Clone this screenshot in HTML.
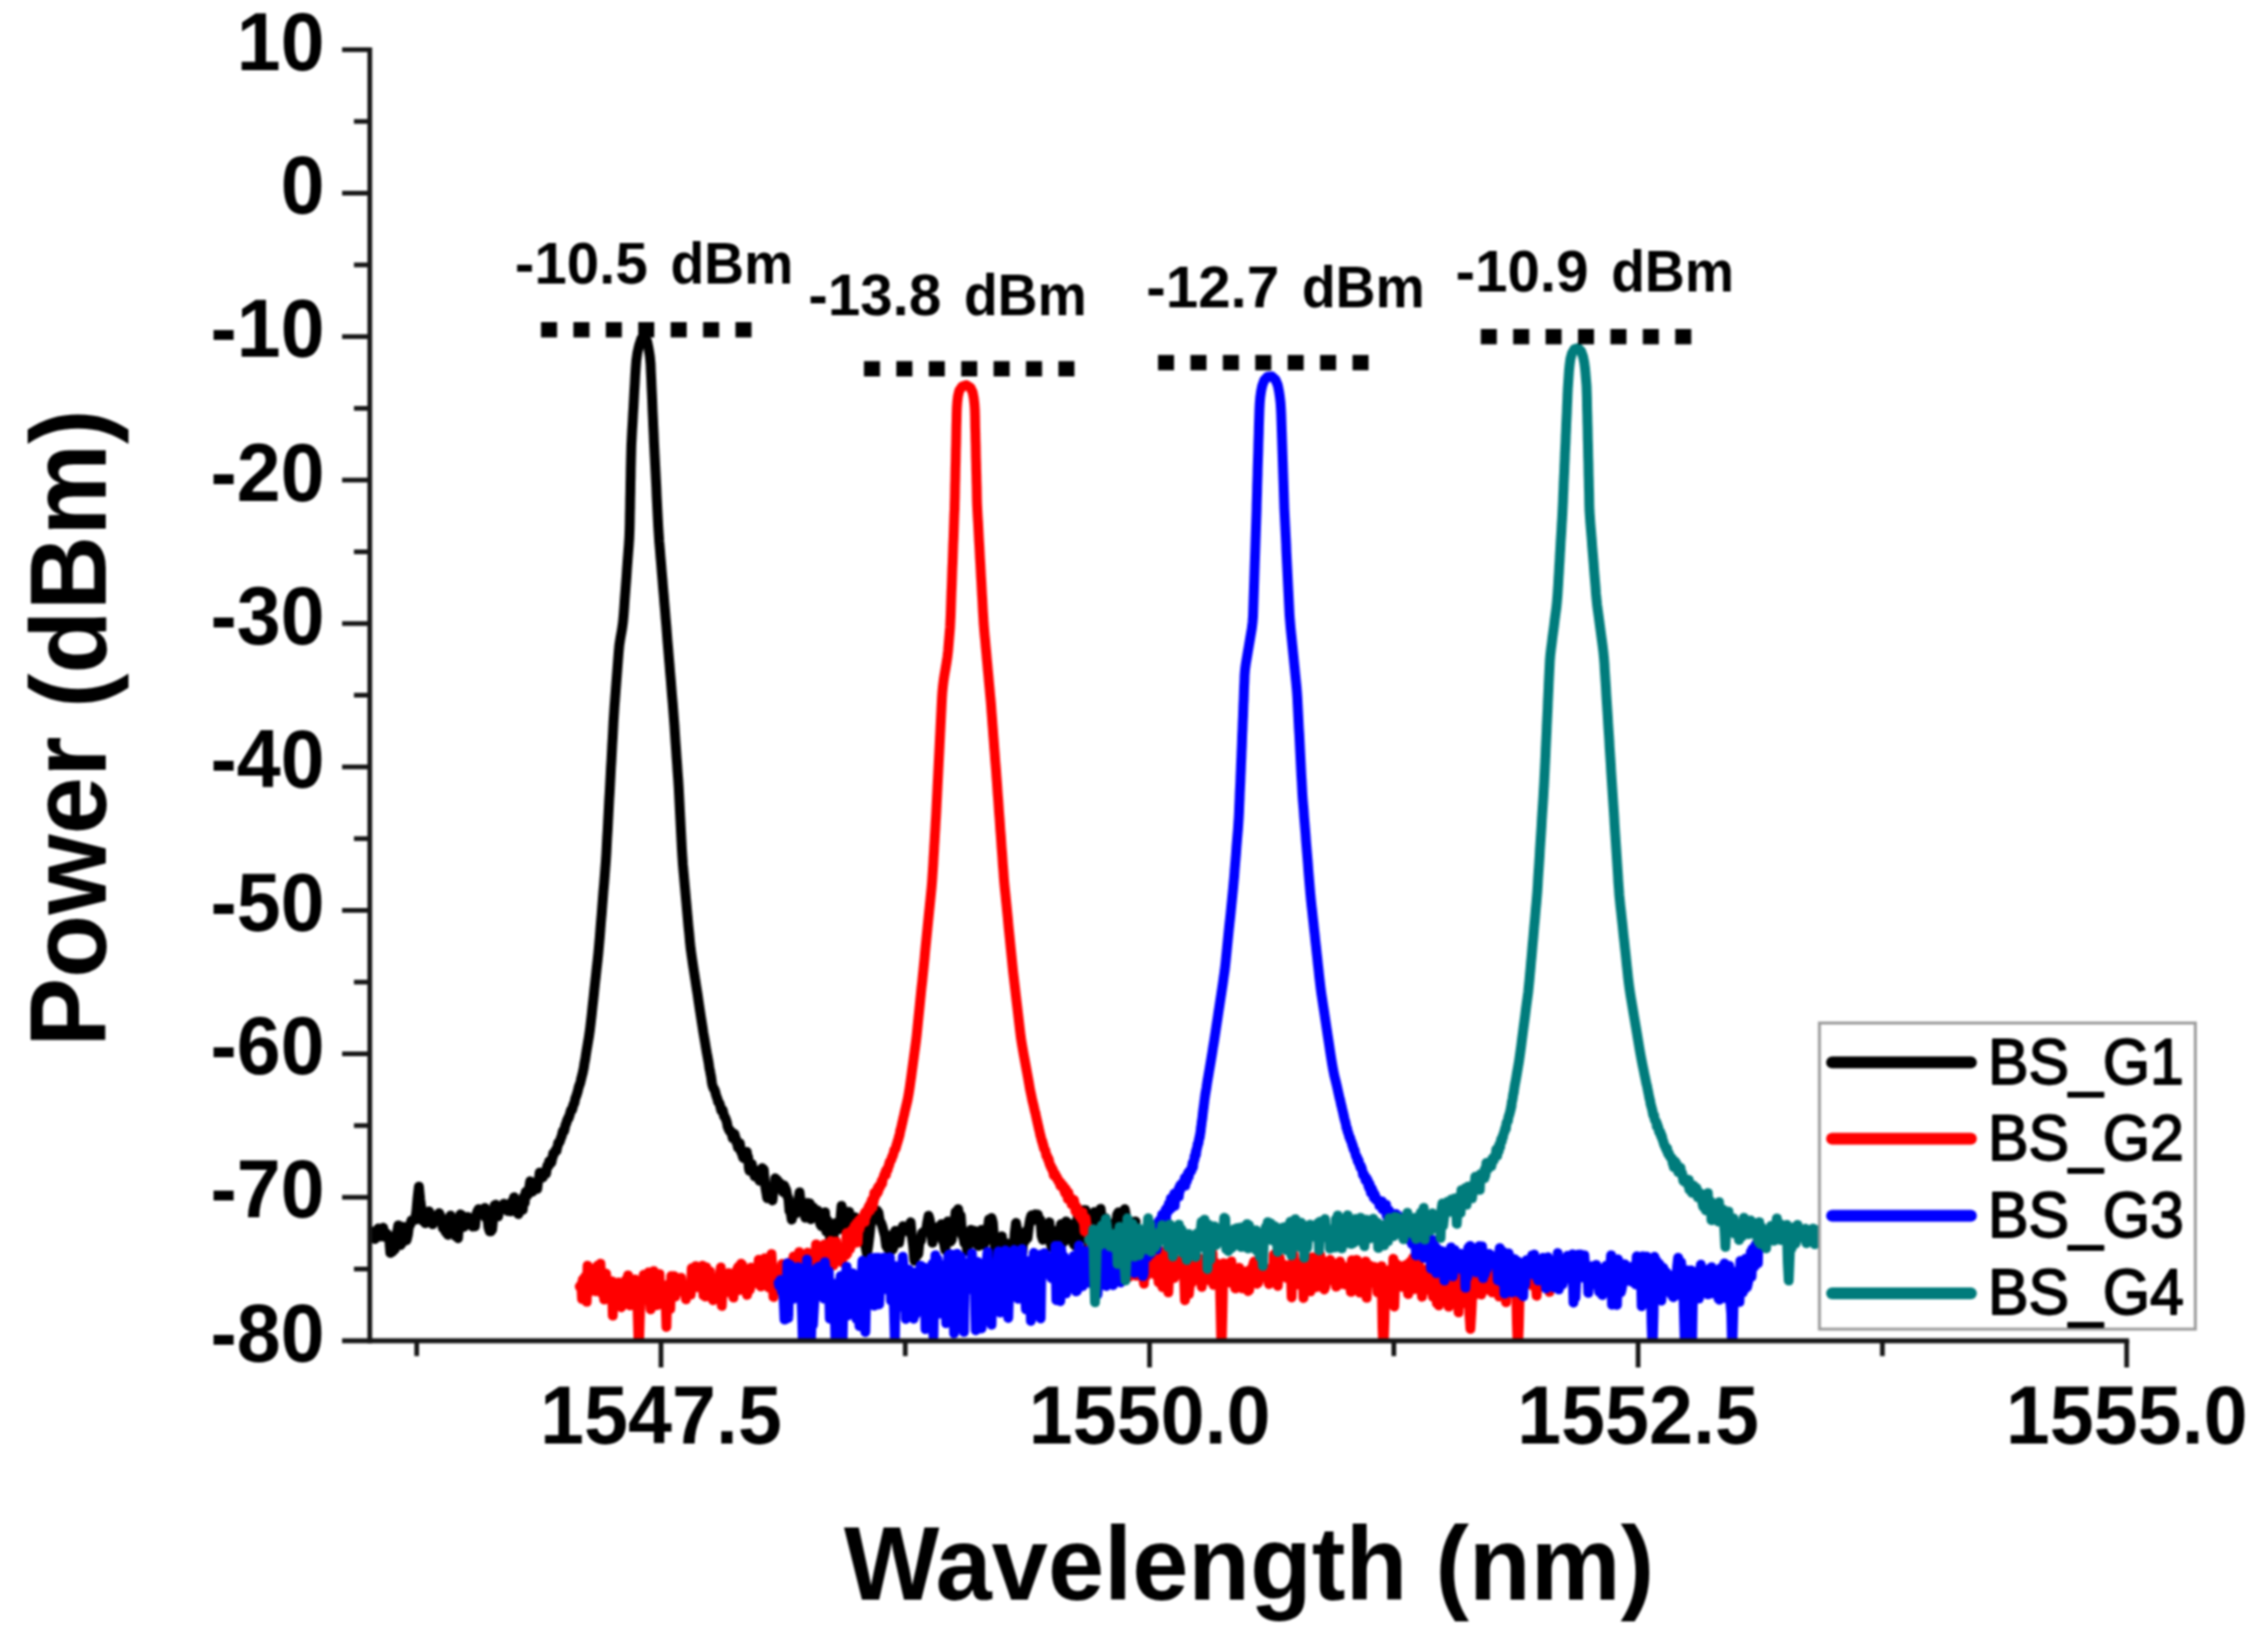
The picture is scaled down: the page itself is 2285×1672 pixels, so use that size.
<!DOCTYPE html>
<html lang="en">
<head>
<meta charset="utf-8">
<title>Backscattered spectra BS_G1 to BS_G4</title>
<style>
html,body{margin:0;padding:0;background:#fff;}
body{width:2285px;height:1672px;overflow:hidden;}
svg{display:block;filter:blur(1.1px);}
</style>
</head>
<body>
<svg width="2285" height="1672" viewBox="0 0 2285 1672" role="img" aria-label="Backscattered power spectra of gratings BS_G1 to BS_G4">
<rect width="2285" height="1672" fill="#fff"/>
<defs><clipPath id="pc"><rect x="374.2" y="0" width="1910.8" height="1359.0"/></clipPath></defs>
<g clip-path="url(#pc)" fill="none" stroke-width="10" stroke-linejoin="round" stroke-linecap="round">
<path stroke="#000000" d="M375.9 1246.4L376.6 1246.5L377.5 1247.7L378.4 1250.2L379.4 1254.0L380.6 1252.6L381.7 1245.7L382.9 1243.3L384.1 1246.5L385.4 1251.4L386.6 1246.6L387.8 1242.6L389.0 1250.2L390.2 1252.2L391.4 1248.4L392.6 1250.3L393.8 1252.4L395.0 1268.0L396.1 1267.4L397.3 1266.7L398.5 1265.2L399.6 1264.3L400.8 1249.6L402.0 1246.7L403.1 1240.2L404.3 1255.9L405.5 1260.1L406.6 1258.4L407.8 1241.8L409.0 1246.8L410.2 1248.8L411.4 1255.3L412.7 1250.1L413.9 1240.8L415.1 1239.5L416.4 1235.2L417.6 1235.7L418.9 1234.3L420.1 1234.4L421.4 1225.8L422.6 1212.2L423.9 1201.0L425.2 1214.1L426.4 1222.9L427.7 1235.5L429.0 1231.8L430.3 1238.0L431.5 1233.7L432.8 1228.5L434.1 1225.9L435.4 1228.5L436.7 1238.0L438.0 1239.1L439.2 1234.3L440.5 1231.6L441.8 1234.8L443.1 1231.0L444.4 1227.8L445.7 1230.7L446.9 1233.1L448.2 1243.0L449.5 1238.9L450.8 1246.8L452.1 1247.7L453.3 1249.8L454.6 1238.3L455.9 1230.2L457.2 1235.5L458.4 1244.4L459.7 1247.2L461.0 1251.1L462.2 1248.8L463.5 1253.2L464.7 1234.8L465.9 1229.1L467.2 1229.8L468.4 1237.2L469.6 1241.7L470.9 1232.0L472.1 1231.9L473.3 1231.7L474.6 1237.1L475.8 1235.1L477.0 1234.1L478.3 1241.4L479.5 1240.3L480.7 1241.2L482.0 1229.3L483.2 1225.9L484.4 1223.8L485.7 1225.5L486.9 1229.6L488.1 1224.4L489.4 1226.9L490.6 1222.5L491.9 1232.8L493.1 1230.7L494.3 1242.2L495.6 1246.2L496.8 1246.2L498.0 1244.4L499.2 1231.9L500.5 1219.9L501.7 1219.3L502.9 1222.1L504.1 1231.1L505.3 1224.3L506.5 1221.9L507.7 1223.2L508.9 1221.7L510.0 1218.2L511.2 1221.1L512.3 1223.9L513.5 1225.5L514.6 1224.9L515.7 1222.7L516.8 1226.1L517.9 1216.5L519.1 1216.1L520.2 1211.7L521.3 1217.3L522.4 1218.0L523.5 1226.8L524.6 1228.8L525.7 1225.6L526.8 1225.5L527.9 1215.7L529.0 1224.5L530.0 1211.0L531.0 1217.3L532.0 1206.3L533.0 1207.8L533.9 1209.6L534.8 1206.8L535.7 1201.2L536.5 1195.6L537.3 1199.6L538.2 1204.0L539.0 1206.1L539.8 1200.4L540.6 1200.6L541.4 1196.7L542.2 1201.5L543.0 1200.6L543.7 1203.3L544.5 1195.9L545.3 1193.5L546.1 1186.8L546.9 1188.9L547.7 1189.3L548.5 1191.4L549.2 1191.8L550.0 1188.9L550.7 1187.9L551.4 1186.1L552.0 1188.1L552.7 1187.8L553.3 1182.4L553.9 1179.8L554.5 1179.1L555.1 1180.5L555.7 1175.4L556.3 1175.0L556.9 1174.8L557.5 1177.1L558.0 1176.4L558.6 1173.5L559.2 1171.3L559.8 1167.4L560.4 1168.4L560.9 1166.5L561.5 1166.2L562.1 1164.2L562.7 1165.1L563.2 1164.7L563.8 1161.6L564.4 1159.6L564.9 1156.7L565.4 1157.1L566.0 1155.8L566.5 1155.5L567.0 1153.6L567.5 1152.2L568.0 1150.7L568.5 1150.0L568.9 1147.5L569.4 1145.6L569.9 1144.1L570.3 1144.4L570.8 1144.9L571.3 1143.2L571.8 1140.7L572.2 1138.6L572.7 1137.7L573.2 1136.7L573.6 1134.8L574.1 1133.4L574.6 1133.0L575.0 1131.4L575.5 1131.6L576.0 1129.6L576.4 1129.0L576.9 1126.6L577.4 1124.9L577.8 1123.6L578.2 1123.0L578.7 1123.6L579.1 1122.7L579.5 1121.3L579.9 1119.3L580.3 1118.1L580.7 1117.1L581.1 1116.7L581.4 1115.7L581.8 1113.7L582.2 1111.7L582.6 1110.6L583.0 1109.7L583.3 1108.8L583.7 1107.6L584.1 1106.4L584.5 1105.2L584.8 1103.7L585.2 1102.2L585.6 1100.3L586.0 1099.5L586.3 1098.4L586.7 1097.5L587.1 1096.2L587.5 1094.8L587.8 1093.4L588.2 1091.9L588.5 1090.6L588.9 1088.7L589.2 1087.9L589.5 1086.5L589.8 1085.7L590.0 1084.1L590.3 1083.3L590.5 1082.1L590.8 1080.6L591.0 1079.1L591.2 1077.8L591.4 1076.6L591.6 1075.2L591.9 1073.9L592.1 1072.9L593.3 1065.0L594.6 1057.3L595.9 1049.7L597.0 1042.0L597.9 1034.3L598.8 1026.5L599.6 1018.7L600.5 1010.9L601.3 1003.1L602.1 995.4L603.0 987.6L603.8 979.9L604.7 972.1L605.5 964.4L606.2 956.6L606.9 948.8L607.5 941.0L608.1 933.3L608.8 925.5L609.4 917.7L610.0 910.0L610.6 902.2L611.3 894.4L611.9 886.6L612.5 878.8L613.1 871.1L613.6 863.3L614.0 855.5L614.4 847.7L614.9 839.9L615.3 832.1L615.7 824.3L616.1 816.5L616.5 808.7L617.0 800.9L617.4 793.1L617.8 785.4L618.2 777.6L618.7 769.8L619.1 762.0L619.5 754.2L620.0 746.4L620.4 738.6L620.8 730.8L621.3 723.0L621.8 715.2L622.4 707.5L623.0 699.7L623.6 691.9L624.2 684.1L624.8 676.3L625.4 668.6L626.0 660.8L626.7 653.0L627.9 645.3L629.3 637.7L630.4 629.9L631.1 622.2L631.7 614.4L632.2 606.6L632.8 598.8L633.4 591.1L634.0 583.3L634.5 575.5L635.1 567.7L635.7 559.9L636.3 552.1L636.8 544.4L637.1 536.6L637.3 528.8L637.4 521.0L637.6 513.2L637.7 505.4L637.9 497.6L638.0 489.8L638.2 482.0L638.3 474.2L638.5 466.4L638.7 458.6L638.9 450.8L639.3 443.0L639.7 435.2L640.2 427.4L640.6 419.6L641.1 411.8L641.5 404.0L641.9 396.2L642.4 388.4L642.8 380.6L643.3 372.9L643.9 365.1L645.0 357.4L646.7 349.8L649.0 342.9L652.3 340.7L655.0 345.9L656.5 353.4L657.7 361.1L658.4 368.8L658.7 376.6L659.1 384.4L659.4 392.2L659.8 400.0L660.1 407.8L660.4 415.6L660.8 423.4L661.1 431.2L661.5 439.0L661.8 446.8L662.2 454.6L662.6 462.4L663.0 470.2L663.4 478.0L663.8 485.8L664.2 493.6L664.5 501.4L664.9 509.1L665.3 516.9L665.7 524.7L666.1 532.5L666.6 540.3L667.1 548.1L667.8 555.9L668.4 563.6L669.1 571.4L669.7 579.2L670.4 587.0L671.0 594.8L671.7 602.5L672.3 610.3L673.0 618.1L673.6 625.9L674.3 633.6L674.9 641.4L675.5 649.2L676.2 657.0L676.8 664.7L677.5 672.5L678.1 680.3L678.8 688.1L679.4 695.8L680.0 703.6L680.7 711.4L681.3 719.2L681.9 726.9L682.5 734.7L683.0 742.5L683.5 750.3L684.1 758.1L684.6 765.9L685.2 773.7L685.7 781.4L686.3 789.2L686.8 797.0L687.2 804.8L687.6 812.6L688.0 820.4L688.4 828.2L688.8 836.0L689.2 843.8L689.6 851.6L690.0 859.3L690.5 867.1L691.0 874.9L691.7 882.7L692.4 890.5L693.1 898.2L693.8 906.0L694.5 913.8L695.2 921.5L695.9 929.3L696.6 937.1L697.4 944.8L698.1 952.7L698.9 960.3L700.0 968.1L701.1 975.8L702.3 983.5L703.5 991.2L704.7 998.9L705.9 1006.6L707.0 1014.3L708.2 1022.2L709.4 1030.0L710.6 1037.6L711.8 1045.5L713.1 1052.9L714.4 1060.8L715.1 1064.9L715.3 1066.0L715.5 1066.7L715.7 1068.3L716.0 1069.3L716.2 1071.0L716.4 1071.7L716.6 1073.2L716.8 1074.1L717.1 1075.5L717.3 1077.3L717.5 1078.6L717.7 1080.1L717.9 1081.7L718.2 1082.5L718.4 1083.4L718.6 1084.1L718.8 1085.8L719.0 1086.9L719.3 1088.2L719.5 1089.1L719.7 1090.5L720.0 1092.6L720.2 1094.4L720.5 1096.3L720.8 1097.6L721.1 1098.9L721.4 1099.9L721.8 1100.6L722.1 1101.9L722.5 1102.0L723.0 1102.7L723.4 1103.9L723.9 1105.3L724.3 1107.4L724.8 1108.7L725.2 1110.1L725.7 1111.5L726.2 1112.7L726.6 1115.1L727.1 1115.6L727.6 1115.8L728.0 1116.7L728.5 1117.9L729.0 1120.5L729.4 1122.0L729.9 1124.2L730.4 1123.9L730.8 1122.9L731.3 1123.5L731.8 1125.5L732.3 1127.8L732.7 1129.6L733.2 1129.7L733.7 1131.2L734.2 1131.9L734.7 1133.2L735.3 1135.1L735.8 1136.9L736.3 1140.2L736.9 1141.4L737.5 1143.5L738.0 1143.3L738.6 1145.1L739.2 1144.6L739.8 1145.2L740.4 1146.9L740.9 1149.2L741.5 1152.1L742.1 1150.6L742.7 1148.7L743.3 1147.6L743.8 1150.0L744.4 1151.4L745.0 1155.8L745.6 1154.3L746.2 1158.5L746.8 1161.7L747.4 1161.1L748.0 1158.6L748.7 1157.0L749.3 1162.0L750.0 1166.3L750.7 1165.3L751.4 1169.6L752.1 1171.7L752.8 1172.2L753.5 1169.8L754.2 1167.1L754.9 1168.8L755.7 1165.8L756.4 1170.4L757.1 1171.0L757.8 1182.2L758.5 1185.0L759.3 1183.3L760.0 1181.8L760.8 1178.2L761.5 1183.0L762.3 1184.3L763.0 1188.1L763.8 1190.7L764.6 1190.0L765.4 1187.6L766.3 1185.0L767.1 1186.2L767.9 1192.7L768.7 1195.1L769.6 1194.4L770.4 1188.6L771.3 1182.2L772.1 1183.0L772.9 1183.7L773.8 1194.3L774.6 1202.2L775.5 1207.3L776.4 1212.7L777.2 1211.5L778.1 1210.3L779.0 1202.9L779.9 1203.9L780.8 1203.7L781.7 1214.9L782.6 1205.2L783.6 1202.6L784.5 1192.5L785.4 1194.8L786.4 1194.1L787.3 1200.9L788.3 1202.1L789.2 1197.5L790.2 1202.5L791.3 1201.1L792.3 1206.4L793.4 1199.7L794.5 1202.1L795.6 1204.5L796.7 1210.4L797.8 1212.8L798.9 1225.8L800.0 1226.6L801.2 1234.4L802.3 1230.0L803.4 1225.3L804.6 1219.5L805.7 1227.9L806.8 1217.5L808.0 1214.3L809.1 1206.7L810.3 1216.5L811.4 1224.2L812.6 1225.9L813.7 1221.9L814.9 1232.5L816.0 1231.8L817.2 1217.4L818.3 1218.8L819.5 1218.0L820.6 1233.9L821.8 1223.6L823.0 1222.0L824.1 1231.9L825.3 1230.7L826.4 1230.7L827.6 1225.2L828.8 1229.1L830.0 1238.6L831.2 1240.9L832.4 1228.1L833.7 1235.0L834.9 1227.0L836.2 1246.5L837.4 1235.2L838.7 1242.3L840.0 1253.5L841.3 1260.1L842.5 1267.5L843.8 1249.8L845.1 1238.1L846.4 1238.7L847.7 1243.4L849.0 1244.3L850.3 1235.6L851.6 1220.4L852.9 1226.7L854.1 1233.0L855.4 1244.4L856.7 1238.0L858.0 1226.7L859.3 1226.4L860.6 1233.8L861.9 1241.1L863.2 1245.7L864.4 1232.7L865.7 1232.1L867.0 1235.8L868.3 1254.4L869.6 1248.5L870.9 1235.8L872.2 1233.7L873.5 1243.5L874.8 1248.4L876.0 1262.3L877.3 1269.1L878.6 1261.2L879.9 1250.5L881.2 1238.1L882.5 1235.3L883.8 1228.4L885.1 1230.6L886.4 1225.4L887.7 1225.3L889.0 1227.4L890.3 1236.0L891.6 1237.8L892.9 1241.3L894.2 1246.2L895.5 1250.8L896.8 1260.8L898.1 1263.2L899.4 1264.5L900.7 1250.5L902.0 1264.0L903.3 1264.7L904.6 1260.8L905.9 1245.8L907.2 1252.1L908.5 1246.7L909.8 1257.9L911.1 1250.0L912.4 1244.8L913.7 1241.0L915.0 1243.1L916.3 1244.8L917.6 1242.6L918.9 1241.1L920.2 1247.4L921.5 1237.1L922.8 1251.3L924.1 1260.7L925.4 1275.9L926.7 1270.6L928.0 1270.9L929.3 1269.1L930.6 1255.4L931.9 1255.8L933.2 1247.8L934.5 1247.0L935.8 1245.8L937.1 1245.8L938.4 1237.1L939.7 1230.5L941.0 1235.3L942.3 1247.3L943.6 1257.8L944.9 1250.0L946.2 1242.9L947.5 1242.2L948.8 1245.8L950.1 1244.0L951.4 1241.7L952.7 1238.9L954.0 1255.4L955.3 1258.3L956.6 1265.2L957.9 1239.1L959.2 1236.3L960.5 1236.4L961.8 1256.8L963.1 1254.8L964.4 1245.4L965.7 1240.2L967.0 1226.7L968.3 1229.2L969.6 1223.8L970.9 1232.3L972.2 1230.0L973.5 1249.3L974.8 1252.5L976.1 1258.3L977.4 1248.4L978.7 1266.3L980.0 1257.3L981.3 1258.6L982.6 1244.7L983.9 1253.6L985.2 1252.3L986.5 1245.8L987.8 1253.7L989.1 1259.9L990.4 1261.0L991.7 1249.0L993.0 1244.8L994.3 1251.4L995.6 1259.9L996.9 1257.0L998.2 1243.3L999.5 1244.9L1000.8 1234.3L1002.1 1236.5L1003.4 1232.7L1004.7 1237.3L1006.0 1254.3L1007.3 1266.1L1008.6 1277.8L1009.9 1277.4L1011.2 1262.3L1012.5 1255.4L1013.8 1251.2L1015.1 1267.6L1016.4 1257.9L1017.7 1273.2L1019.0 1258.4L1020.3 1267.1L1021.6 1264.5L1022.9 1271.9L1024.2 1278.1L1025.5 1266.1L1026.8 1248.9L1028.1 1237.8L1029.4 1244.5L1030.7 1255.3L1032.0 1269.5L1033.3 1255.7L1034.6 1267.5L1035.9 1248.4L1037.2 1255.9L1038.5 1246.0L1039.8 1253.0L1041.1 1241.6L1042.4 1234.3L1043.7 1230.1L1045.0 1235.5L1046.3 1230.2L1047.6 1229.1L1048.9 1230.5L1050.2 1229.3L1051.5 1235.7L1052.8 1234.6L1054.1 1251.0L1055.4 1254.8L1056.7 1249.2L1058.0 1252.3L1059.3 1245.0L1060.6 1248.2L1061.9 1237.1L1063.2 1258.6L1064.5 1262.7L1065.8 1259.2L1067.1 1247.2L1068.4 1245.7L1069.7 1272.9L1071.0 1258.4L1072.3 1265.5L1073.6 1239.1L1074.9 1258.3L1076.2 1247.1L1077.5 1256.0L1078.8 1236.3L1080.1 1247.4L1081.4 1250.3L1082.7 1239.8L1084.0 1239.0L1085.3 1239.6L1086.6 1259.1L1087.9 1260.8L1089.2 1245.0L1090.5 1231.8L1091.8 1229.9L1093.1 1249.3L1094.4 1253.7L1095.7 1240.0L1097.0 1224.7L1098.3 1224.7L1099.6 1236.1L1100.9 1242.7L1102.2 1263.8L1103.5 1269.3L1104.8 1257.9L1106.1 1251.6L1107.4 1226.8L1108.7 1231.9L1110.0 1231.6L1111.2 1241.0L1112.5 1229.9L1113.8 1223.5L1115.1 1234.9L1116.4 1244.5L1117.7 1238.1L1119.0 1233.2L1120.2 1240.5L1121.5 1242.8L1122.8 1238.2L1124.1 1240.2L1125.4 1250.5L1126.6 1258.0L1127.9 1246.0L1129.2 1242.2L1130.5 1229.6L1131.8 1227.0L1133.1 1237.1L1134.3 1242.0L1135.6 1240.4L1136.9 1227.4L1138.2 1223.7L1139.5 1231.9L1140.7 1241.0L1142.0 1241.5L1143.2 1245.1L1144.4 1254.9L1145.5 1253.8L1146.6 1250.7L1147.5 1236.6L1148.4 1245.2L1149.1 1236.3"/>
<path stroke="#ff0000" d="M586.7 1302.0L587.2 1303.0L587.7 1302.2L588.3 1299.7L589.0 1314.8L589.7 1295.2L590.4 1311.2L591.2 1310.9L592.0 1292.2L592.9 1299.6L593.7 1317.6L594.6 1280.9L595.5 1307.9L596.4 1295.1L597.3 1295.5L598.2 1284.1L599.1 1302.6L600.0 1287.7L600.9 1306.2L601.9 1286.9L602.8 1306.9L603.8 1302.4L604.7 1280.9L605.7 1295.6L606.6 1298.0L607.6 1278.9L608.5 1296.0L609.5 1309.7L610.4 1292.8L611.4 1315.2L612.3 1289.6L613.3 1289.1L614.3 1308.2L615.2 1309.1L616.2 1300.1L617.2 1302.1L618.1 1314.5L619.1 1296.7L620.1 1331.5L621.0 1308.3L622.0 1308.2L623.0 1306.9L623.9 1300.6L624.9 1320.0L625.9 1298.1L626.8 1306.8L627.8 1312.9L628.8 1323.2L629.8 1320.8L630.7 1301.6L631.7 1318.2L632.7 1305.4L633.6 1295.1L634.6 1295.6L635.6 1290.8L636.6 1310.5L637.5 1321.3L638.5 1296.4L639.5 1303.9L640.5 1295.6L641.5 1307.5L642.5 1295.1L643.5 1298.6L644.5 1300.0L645.5 1335.1L646.5 1368.0L647.4 1336.6L648.4 1305.4L649.4 1297.3L650.4 1314.3L651.4 1290.3L652.4 1309.3L653.4 1297.3L654.4 1309.1L655.4 1311.0L656.4 1287.7L657.4 1311.8L658.4 1325.2L659.4 1317.0L660.4 1311.9L661.4 1286.6L662.4 1305.6L663.4 1297.8L664.4 1321.1L665.4 1303.9L666.4 1300.5L667.4 1289.6L668.4 1316.7L669.4 1301.1L670.4 1304.3L671.4 1321.0L672.4 1307.8L673.4 1310.7L674.4 1343.1L675.4 1300.6L676.4 1301.1L677.4 1312.3L678.3 1324.7L679.3 1291.4L680.3 1303.4L681.3 1295.5L682.3 1291.6L683.3 1312.3L684.2 1297.0L685.2 1308.4L686.2 1306.1L687.2 1306.2L688.2 1305.0L689.2 1293.2L690.1 1303.3L691.1 1306.3L692.1 1307.5L693.1 1300.4L694.1 1315.0L695.1 1309.7L696.0 1304.2L697.0 1310.1L698.0 1304.6L699.0 1310.3L700.0 1283.6L701.0 1289.3L701.9 1297.6L702.9 1302.9L703.9 1281.5L704.9 1298.4L705.9 1302.7L706.9 1298.3L707.8 1298.1L708.8 1287.3L709.8 1301.2L710.8 1281.1L711.8 1311.1L712.8 1293.2L713.7 1312.3L714.7 1282.8L715.7 1303.6L716.7 1300.3L717.7 1290.1L718.6 1286.9L719.6 1312.4L720.6 1302.7L721.6 1315.9L722.6 1297.0L723.5 1299.4L724.5 1302.0L725.5 1305.7L726.5 1302.0L727.5 1306.0L728.5 1291.9L729.4 1282.8L730.4 1321.7L731.4 1298.0L732.4 1301.1L733.4 1291.3L734.3 1307.0L735.3 1297.5L736.3 1307.7L737.3 1288.6L738.3 1294.3L739.2 1296.9L740.2 1291.2L741.2 1297.4L742.2 1313.2L743.2 1288.5L744.1 1291.3L745.1 1295.6L746.1 1284.4L747.1 1282.2L748.1 1305.8L749.1 1301.8L750.0 1279.0L751.0 1279.9L752.0 1300.8L753.0 1305.9L754.0 1299.3L755.0 1297.5L756.0 1310.6L757.0 1291.7L757.9 1306.3L758.9 1305.2L759.9 1282.9L760.9 1298.6L761.9 1291.9L762.9 1285.1L763.9 1283.3L764.9 1294.2L765.9 1290.2L766.8 1299.3L767.8 1275.0L768.8 1284.0L769.8 1302.1L770.8 1289.8L771.8 1283.0L772.8 1285.0L773.8 1273.6L774.8 1277.0L775.7 1294.7L776.7 1289.9L777.7 1302.9L778.7 1286.3L779.7 1287.1L780.7 1269.2L781.7 1287.3L782.7 1312.7L783.6 1294.8L784.6 1286.7L785.6 1301.1L786.6 1296.4L787.6 1290.8L788.6 1283.8L789.5 1288.4L790.5 1295.7L791.5 1279.2L792.4 1291.5L793.4 1290.8L794.4 1300.3L795.3 1293.2L796.3 1279.1L797.2 1302.2L798.2 1285.1L799.1 1277.7L800.1 1287.5L801.1 1281.3L802.0 1294.6L803.0 1271.8L803.9 1273.2L804.9 1280.2L805.8 1300.7L806.8 1292.2L807.7 1273.1L808.7 1267.2L809.7 1278.2L810.6 1270.2L811.6 1286.0L812.5 1281.7L813.5 1279.7L814.4 1275.7L815.4 1294.5L816.3 1270.9L817.3 1267.7L818.2 1289.2L819.2 1291.1L820.1 1274.5L821.1 1283.2L822.0 1302.0L823.0 1269.8L823.9 1274.8L824.8 1280.1L825.8 1259.5L826.7 1273.9L827.6 1281.6L828.6 1273.6L829.5 1283.6L830.4 1280.5L831.4 1270.1L832.3 1277.8L833.2 1276.5L834.2 1259.6L835.1 1265.1L836.0 1265.2L837.0 1266.9L837.9 1266.9L838.8 1259.4L839.7 1270.2L840.6 1256.0L841.6 1277.4L842.5 1270.9L843.4 1280.6L844.2 1270.7L845.1 1263.4L846.0 1256.4L846.9 1272.0L847.7 1265.9L848.6 1268.3L849.4 1270.9L850.3 1274.1L851.1 1263.4L851.9 1277.6L852.7 1261.9L853.5 1262.0L854.3 1266.4L855.1 1268.4L855.9 1270.6L856.6 1248.1L857.4 1268.6L858.1 1248.9L858.8 1253.9L859.5 1259.3L860.2 1263.9L860.9 1249.4L861.6 1245.2L862.2 1259.8L862.9 1255.0L863.5 1246.8L864.1 1249.9L864.7 1240.8L865.3 1253.2L865.8 1246.5L866.4 1255.3L866.9 1237.8L867.4 1250.5L867.9 1257.6L868.4 1245.6L868.9 1244.8L869.3 1235.1L869.8 1243.9L870.2 1241.6L870.7 1238.1L871.1 1233.4L871.6 1239.1L872.0 1233.9L872.5 1235.0L872.9 1237.3L873.4 1235.0L873.8 1234.2L874.3 1236.8L874.7 1228.4L875.2 1236.6L875.6 1227.0L876.1 1226.8L876.5 1229.3L876.9 1230.5L877.4 1227.9L877.8 1224.9L878.3 1223.2L878.7 1223.7L879.2 1220.9L879.6 1224.3L880.0 1221.2L880.5 1225.2L880.9 1218.1L881.3 1218.7L881.8 1219.2L882.2 1214.5L882.7 1214.8L883.1 1221.6L883.5 1214.5L884.0 1217.0L884.4 1210.5L884.8 1207.2L885.3 1212.1L885.7 1210.0L886.2 1209.7L886.6 1207.6L887.0 1206.2L887.5 1204.1L887.9 1207.4L888.3 1202.0L888.8 1205.5L889.2 1202.4L889.6 1200.1L890.1 1199.9L890.5 1201.7L890.9 1200.4L891.4 1199.1L891.8 1197.6L892.2 1194.9L892.7 1197.6L893.1 1194.1L893.5 1193.0L893.9 1192.2L894.3 1191.4L894.7 1189.2L895.1 1189.6L895.5 1188.2L895.9 1187.7L896.2 1185.4L896.6 1188.7L897.0 1184.2L897.3 1184.9L897.7 1184.0L898.1 1183.8L898.4 1183.8L898.8 1181.3L899.2 1180.7L899.5 1178.6L899.9 1179.5L900.3 1175.9L900.6 1176.0L901.0 1175.5L901.3 1175.0L901.7 1174.1L902.1 1173.5L902.4 1172.0L902.8 1170.7L903.2 1169.9L903.5 1169.9L903.9 1168.1L904.2 1167.6L904.6 1165.9L905.0 1163.8L905.3 1163.7L905.7 1163.4L906.0 1163.3L906.4 1162.2L906.7 1161.4L907.1 1159.0L907.4 1159.0L907.7 1157.5L908.0 1157.0L908.3 1155.6L908.6 1154.0L908.9 1154.1L909.1 1153.0L909.4 1152.2L909.6 1150.4L909.9 1150.4L910.1 1149.4L910.4 1148.6L910.6 1147.6L910.8 1145.8L911.0 1144.1L911.3 1144.5L911.5 1142.7L911.7 1142.0L912.0 1141.6L912.2 1140.3L912.4 1139.3L912.6 1138.5L912.9 1136.6L913.1 1136.9L913.3 1135.2L913.5 1134.2L913.8 1133.5L914.0 1132.3L914.2 1131.1L914.4 1130.4L914.7 1129.3L914.9 1128.3L915.1 1128.1L915.4 1126.1L915.6 1125.0L915.8 1124.3L917.2 1118.5L918.5 1113.0L919.6 1106.8L920.5 1101.2L921.4 1094.9L922.2 1089.2L923.0 1083.2L923.8 1077.4L924.6 1071.3L925.4 1065.4L926.2 1059.5L927.0 1053.5L927.7 1047.5L928.3 1041.6L928.9 1035.6L929.5 1029.6L930.1 1023.7L930.7 1017.7L931.3 1011.7L931.9 1005.7L932.5 999.8L933.2 993.8L933.8 987.8L934.4 981.9L935.0 975.9L935.6 969.9L936.1 964.0L936.7 958.0L937.3 952.0L937.9 946.0L938.5 940.1L939.1 934.1L939.7 928.1L940.3 922.1L940.9 916.2L941.5 910.2L942.1 904.2L942.7 898.3L943.2 892.3L943.6 886.3L944.0 880.3L944.4 874.3L944.7 868.3L945.1 862.3L945.4 856.4L945.8 850.4L946.1 844.4L946.5 838.4L946.8 832.4L947.2 826.4L947.5 820.4L947.8 814.4L948.1 808.4L948.4 802.4L948.7 796.4L949.0 790.4L949.3 784.4L949.6 778.5L949.9 772.5L950.2 766.5L950.5 760.5L950.8 754.5L951.1 748.5L951.4 742.5L951.7 736.5L952.0 730.5L952.3 724.5L952.6 718.5L952.9 712.5L953.2 706.5L953.6 700.5L954.2 694.6L954.9 688.6L955.8 682.7L956.8 676.8L957.8 670.9L958.7 664.9L959.4 659.0L959.9 653.0L960.4 647.0L960.9 641.0L961.4 635.1L961.7 629.1L962.0 623.1L962.2 617.1L962.4 611.1L962.6 605.1L962.8 599.1L963.1 593.1L963.3 587.1L963.5 581.1L963.7 575.1L964.0 569.1L964.2 563.1L964.4 557.1L964.6 551.1L964.9 545.1L965.1 539.1L965.3 533.1L965.5 527.1L965.7 521.1L966.0 515.1L966.1 509.1L966.3 503.1L966.4 497.1L966.5 491.1L966.7 485.1L966.8 479.1L966.9 473.1L967.1 467.1L967.2 461.1L967.3 455.1L967.5 449.1L967.6 443.1L967.7 437.1L967.8 431.1L968.0 425.1L968.1 419.1L968.3 413.1L968.7 407.2L969.4 401.2L970.7 395.6L973.6 391.2L977.9 389.8L982.0 392.2L984.3 397.2L985.4 402.9L986.1 408.9L986.5 414.9L986.7 420.9L986.8 426.9L986.9 432.9L987.1 438.9L987.2 444.9L987.4 450.9L987.5 456.9L987.6 462.9L987.8 468.9L987.9 474.9L988.1 480.9L988.2 486.9L988.4 492.9L988.5 498.9L988.6 504.9L988.8 510.9L989.1 516.9L989.4 522.8L989.8 528.8L990.1 534.8L990.4 540.8L990.7 546.8L991.1 552.8L991.4 558.8L991.7 564.8L992.1 570.8L992.4 576.8L992.7 582.8L993.1 588.8L993.4 594.7L993.7 600.7L994.1 606.7L994.4 612.7L994.7 618.7L995.1 624.7L995.4 630.7L995.9 636.7L996.4 642.7L997.0 648.6L997.5 654.6L998.1 660.6L998.6 666.6L999.2 672.5L999.7 678.5L1000.3 684.5L1000.8 690.5L1001.4 696.4L1001.9 702.4L1002.5 708.4L1003.0 714.4L1003.4 720.3L1003.9 726.3L1004.3 732.3L1004.8 738.3L1005.2 744.3L1005.7 750.3L1006.1 756.2L1006.6 762.2L1007.0 768.2L1007.5 774.2L1008.0 780.2L1008.4 786.2L1008.9 792.2L1009.3 798.1L1009.7 804.1L1010.2 810.1L1010.6 816.1L1011.0 822.1L1011.5 828.1L1011.9 834.0L1012.3 840.0L1012.8 846.0L1013.2 852.0L1013.6 858.0L1014.1 864.0L1014.5 870.0L1014.9 875.9L1015.4 881.9L1015.8 887.9L1016.3 893.9L1016.9 899.9L1017.5 905.8L1018.1 911.8L1018.7 917.8L1019.3 923.8L1019.9 929.7L1020.4 935.7L1021.0 941.7L1021.6 947.6L1022.2 953.6L1022.8 959.6L1023.4 965.6L1024.0 971.5L1024.6 977.5L1025.2 983.5L1025.9 989.4L1026.6 995.4L1027.3 1001.4L1028.0 1007.3L1028.7 1013.3L1029.4 1019.2L1030.1 1025.2L1030.8 1031.2L1031.5 1037.1L1032.2 1043.1L1032.9 1049.0L1033.8 1054.9L1034.8 1060.8L1035.8 1066.7L1036.9 1072.5L1038.0 1078.5L1039.1 1084.4L1040.2 1090.4L1041.2 1096.0L1042.3 1102.5L1043.5 1108.0L1044.7 1114.1L1046.1 1119.6L1047.2 1124.8L1047.4 1125.5L1047.7 1126.2L1047.9 1127.2L1048.1 1127.9L1048.3 1129.4L1048.6 1130.5L1048.8 1131.2L1049.0 1132.5L1049.3 1133.5L1049.5 1134.7L1049.7 1135.1L1049.9 1136.7L1050.2 1137.2L1050.4 1138.8L1050.6 1138.9L1050.8 1140.6L1051.1 1140.9L1051.3 1142.8L1051.5 1143.4L1051.7 1143.7L1052.0 1145.5L1052.2 1146.1L1052.4 1147.3L1052.7 1149.1L1052.9 1148.9L1053.1 1149.8L1053.4 1151.5L1053.6 1151.6L1053.9 1153.3L1054.1 1154.4L1054.4 1154.8L1054.7 1156.1L1055.0 1155.5L1055.3 1158.6L1055.6 1158.2L1055.9 1159.0L1056.2 1161.8L1056.5 1162.6L1056.8 1162.1L1057.2 1163.7L1057.5 1164.0L1057.9 1164.5L1058.2 1166.4L1058.5 1167.9L1058.9 1169.9L1059.2 1168.9L1059.6 1170.7L1059.9 1170.6L1060.2 1171.6L1060.6 1173.9L1060.9 1172.3L1061.3 1173.7L1061.6 1174.8L1061.9 1177.6L1062.3 1177.8L1062.6 1178.9L1063.0 1179.7L1063.4 1181.4L1063.8 1180.7L1064.1 1181.9L1064.5 1182.6L1065.0 1184.5L1065.4 1183.4L1065.8 1185.5L1066.3 1189.5L1066.8 1188.2L1067.3 1188.4L1067.8 1188.0L1068.3 1190.4L1068.8 1191.2L1069.3 1192.6L1069.8 1191.7L1070.4 1194.0L1070.9 1195.1L1071.4 1196.2L1072.0 1195.2L1072.5 1197.6L1073.1 1200.2L1073.6 1197.5L1074.1 1200.4L1074.7 1199.6L1075.2 1200.4L1075.7 1199.9L1076.3 1201.0L1076.8 1204.6L1077.4 1204.7L1077.9 1207.6L1078.4 1203.1L1079.0 1206.1L1079.5 1205.1L1080.1 1209.2L1080.6 1213.7L1081.2 1207.2L1081.7 1210.9L1082.3 1211.6L1082.8 1212.6L1083.4 1212.2L1084.0 1213.2L1084.5 1219.0L1085.1 1213.6L1085.6 1218.2L1086.2 1218.9L1086.7 1214.4L1087.3 1217.1L1087.8 1221.1L1088.4 1226.2L1088.9 1221.5L1089.5 1221.3L1090.0 1223.8L1090.5 1228.2L1091.0 1227.7L1091.5 1230.1L1092.0 1226.4L1092.5 1225.4L1093.0 1225.6L1093.4 1232.1L1093.9 1229.8L1094.3 1229.6L1094.7 1234.2L1095.1 1233.8L1095.5 1226.9L1095.9 1234.4L1096.3 1232.8L1096.7 1238.7L1097.1 1237.7L1097.5 1246.2L1097.9 1239.8L1098.3 1235.7L1098.7 1233.0L1099.2 1237.3L1099.6 1240.3L1100.1 1243.9L1100.5 1248.0L1101.0 1246.7L1101.5 1243.8L1102.1 1251.7L1102.6 1243.8L1103.1 1254.7L1103.7 1260.5L1104.2 1256.8L1104.8 1261.8L1105.4 1260.9L1106.0 1247.2L1106.5 1255.4L1107.1 1253.7L1107.7 1249.1L1108.3 1249.2L1108.9 1260.7L1109.6 1250.0L1110.2 1256.4L1110.9 1259.6L1111.5 1257.4L1112.2 1271.8L1113.0 1267.5L1113.7 1263.1L1114.5 1258.6L1115.3 1266.3L1116.1 1265.0L1116.9 1257.6L1117.8 1255.0L1118.6 1259.9L1119.5 1256.8L1120.3 1269.9L1121.2 1269.5L1122.1 1265.0L1123.0 1270.5L1123.8 1272.7L1124.7 1256.8L1125.6 1271.1L1126.5 1278.4L1127.4 1266.5L1128.3 1257.2L1129.1 1270.6L1130.0 1262.2L1130.9 1275.9L1131.9 1276.8L1132.8 1279.0L1133.7 1274.5L1134.6 1259.7L1135.6 1284.7L1136.5 1261.7L1137.4 1284.0L1138.4 1277.0L1139.3 1268.5L1140.3 1270.4L1141.2 1273.5L1142.2 1292.5L1143.1 1273.5L1144.1 1286.5L1145.0 1259.6L1146.0 1279.3L1146.9 1276.1L1147.9 1289.1L1148.9 1282.7L1149.8 1291.3L1150.8 1270.7L1151.7 1281.5L1152.7 1274.5L1153.7 1286.1L1154.6 1284.5L1155.6 1269.4L1156.6 1289.7L1157.6 1299.3L1158.6 1277.0L1159.5 1292.1L1160.5 1285.1L1161.5 1273.3L1162.5 1289.2L1163.5 1273.9L1164.5 1288.2L1165.5 1269.4L1166.5 1270.8L1167.4 1286.5L1168.4 1284.2L1169.4 1290.5L1170.4 1280.7L1171.4 1272.8L1172.4 1297.9L1173.4 1275.0L1174.4 1296.8L1175.4 1291.8L1176.3 1302.7L1177.3 1266.5L1178.3 1283.2L1179.3 1281.6L1180.3 1290.7L1181.3 1274.9L1182.3 1308.0L1183.3 1284.2L1184.3 1266.6L1185.2 1288.5L1186.2 1284.7L1187.2 1279.0L1188.2 1293.4L1189.2 1285.1L1190.2 1277.0L1191.2 1283.8L1192.2 1282.4L1193.2 1289.4L1194.1 1283.1L1195.1 1285.7L1196.1 1273.7L1197.1 1279.9L1198.1 1288.9L1199.1 1316.1L1200.1 1280.2L1201.1 1279.9L1202.1 1296.4L1203.1 1309.9L1204.1 1299.1L1205.1 1278.7L1206.1 1298.3L1207.1 1291.7L1208.1 1285.1L1209.1 1276.3L1210.1 1287.4L1211.1 1288.2L1212.1 1292.8L1213.1 1273.2L1214.1 1277.7L1215.1 1288.2L1216.1 1302.5L1217.1 1295.5L1218.1 1282.0L1219.1 1294.8L1220.1 1279.3L1221.1 1284.0L1222.1 1284.7L1223.1 1281.4L1224.1 1282.8L1225.1 1296.4L1226.1 1290.8L1227.1 1268.5L1228.1 1300.5L1229.1 1292.4L1230.1 1278.0L1231.1 1289.2L1232.1 1296.1L1233.1 1302.0L1234.1 1282.7L1235.1 1323.3L1236.1 1368.0L1237.1 1327.6L1238.1 1278.4L1239.1 1298.7L1240.1 1286.2L1241.1 1294.8L1242.1 1286.2L1243.1 1281.0L1244.1 1278.3L1245.1 1298.3L1246.1 1276.7L1247.1 1292.7L1248.1 1298.8L1249.1 1289.7L1250.1 1304.1L1251.1 1288.0L1252.1 1285.3L1253.1 1290.0L1254.1 1283.1L1255.1 1291.2L1256.1 1288.1L1257.1 1304.0L1258.1 1287.7L1259.1 1297.1L1260.1 1292.7L1261.1 1289.1L1262.1 1286.4L1263.1 1306.8L1264.1 1305.8L1265.1 1291.3L1266.1 1283.9L1267.1 1284.9L1268.1 1280.2L1269.1 1276.8L1270.1 1283.7L1271.1 1288.6L1272.1 1299.4L1273.1 1298.5L1274.1 1293.2L1275.1 1285.9L1276.1 1286.4L1277.1 1288.5L1278.1 1290.1L1279.1 1282.7L1280.1 1286.6L1281.1 1285.8L1282.1 1285.7L1283.1 1294.3L1284.1 1299.7L1285.1 1284.1L1286.1 1284.8L1287.1 1290.9L1288.1 1293.0L1289.1 1269.7L1290.1 1296.7L1291.1 1291.0L1292.1 1286.3L1293.1 1301.4L1294.1 1287.7L1295.1 1273.3L1296.1 1280.4L1297.1 1283.0L1298.1 1283.4L1299.1 1287.9L1300.1 1280.2L1301.1 1290.6L1302.1 1293.4L1303.1 1288.1L1304.1 1280.8L1305.1 1286.0L1306.1 1282.9L1307.1 1313.2L1308.1 1278.5L1309.1 1269.9L1310.1 1277.4L1311.1 1292.5L1312.1 1298.3L1313.1 1286.7L1314.1 1300.0L1315.1 1282.7L1316.1 1294.9L1317.1 1280.7L1318.1 1277.3L1319.1 1313.8L1320.1 1286.8L1321.1 1296.9L1322.1 1305.4L1323.1 1296.1L1324.1 1291.9L1325.1 1280.3L1326.1 1307.0L1327.1 1280.2L1328.1 1272.5L1329.1 1284.2L1330.1 1284.7L1331.1 1290.1L1332.1 1302.8L1333.1 1284.9L1334.1 1286.3L1335.1 1283.2L1336.1 1270.6L1337.1 1283.3L1338.1 1286.0L1339.1 1276.3L1340.1 1305.2L1341.1 1302.8L1342.1 1294.1L1343.1 1297.2L1344.1 1283.8L1345.1 1293.6L1346.1 1275.1L1347.1 1276.8L1348.1 1283.2L1349.1 1294.4L1350.1 1284.6L1351.1 1282.9L1352.1 1302.2L1353.1 1287.2L1354.0 1283.9L1355.0 1288.5L1356.0 1276.7L1357.0 1279.6L1358.0 1299.6L1359.0 1289.5L1360.0 1299.8L1361.0 1285.3L1362.0 1300.2L1363.0 1282.3L1364.0 1287.2L1365.0 1281.9L1366.0 1292.5L1367.0 1307.6L1368.0 1275.4L1369.0 1292.8L1370.0 1278.6L1371.0 1287.0L1372.0 1284.7L1373.0 1275.1L1374.0 1287.9L1375.0 1278.6L1376.0 1308.3L1377.0 1283.1L1378.0 1293.8L1379.0 1292.7L1380.0 1291.3L1381.0 1288.0L1382.0 1276.7L1383.0 1313.6L1384.0 1291.1L1385.0 1299.2L1386.0 1280.8L1387.0 1296.0L1388.0 1287.2L1389.0 1295.8L1390.0 1285.3L1391.0 1282.2L1392.0 1295.9L1393.0 1291.3L1394.0 1308.1L1395.0 1288.8L1396.0 1283.8L1397.0 1297.8L1398.0 1281.5L1399.0 1342.7L1400.0 1368.0L1401.0 1338.0L1402.0 1297.2L1403.0 1291.9L1404.0 1293.0L1405.0 1292.9L1406.0 1285.3L1407.0 1297.2L1408.0 1306.6L1409.0 1306.4L1410.0 1273.9L1411.0 1322.4L1412.0 1294.3L1413.0 1279.2L1414.0 1287.8L1415.0 1301.6L1416.0 1292.6L1417.0 1284.4L1418.0 1281.4L1419.0 1302.6L1420.0 1285.4L1421.0 1290.3L1422.0 1282.5L1423.0 1280.1L1424.0 1296.5L1425.0 1309.8L1426.0 1289.1L1427.0 1277.1L1428.0 1286.4L1429.0 1290.8L1430.0 1273.1L1431.0 1304.8L1432.0 1284.6L1433.0 1299.4L1434.0 1292.8L1435.0 1292.4L1436.0 1279.5L1437.0 1303.8L1438.0 1299.2L1439.0 1312.4L1440.0 1288.7L1441.0 1298.4L1442.0 1289.4L1443.0 1305.7L1444.0 1297.5L1445.0 1283.8L1446.0 1295.5L1447.0 1287.6L1448.0 1288.6L1449.0 1297.6L1450.0 1312.4L1451.0 1284.5L1452.0 1292.2L1453.0 1284.6L1454.0 1319.2L1455.0 1314.0L1456.0 1321.3L1457.0 1303.9L1458.0 1284.2L1459.0 1288.6L1460.0 1294.6L1461.0 1292.9L1462.0 1286.9L1463.0 1297.6L1464.0 1290.4L1465.0 1293.0L1466.0 1322.5L1467.0 1298.6L1468.0 1281.8L1469.0 1298.8L1470.0 1296.1L1471.0 1301.3L1472.0 1299.9L1473.0 1284.0L1474.0 1297.6L1475.0 1306.4L1476.0 1328.3L1477.0 1301.1L1478.0 1319.6L1479.0 1317.5L1480.0 1287.2L1481.0 1288.0L1482.0 1319.0L1483.0 1286.7L1484.0 1290.4L1485.0 1303.8L1486.0 1287.8L1487.0 1329.9L1488.0 1345.0L1489.0 1328.6L1490.0 1307.9L1491.0 1286.6L1492.0 1310.8L1493.0 1308.4L1494.0 1305.9L1495.0 1293.1L1496.0 1298.8L1497.0 1286.8L1498.0 1303.1L1499.0 1310.3L1500.0 1300.7L1501.0 1294.9L1502.0 1305.8L1503.0 1292.4L1504.0 1278.7L1505.0 1301.7L1506.0 1294.9L1507.0 1282.6L1508.0 1302.6L1509.0 1305.0L1510.0 1308.1L1511.0 1291.4L1512.0 1290.3L1513.0 1297.1L1514.0 1295.1L1515.0 1283.4L1516.0 1287.1L1517.0 1312.3L1518.0 1295.7L1519.0 1294.5L1520.0 1288.5L1521.0 1298.0L1522.0 1302.8L1523.0 1300.7L1524.0 1317.9L1525.0 1296.0L1526.0 1302.4L1527.0 1291.1L1528.0 1307.6L1529.0 1300.6L1530.0 1307.1L1531.0 1308.2L1532.0 1288.9L1533.0 1301.0L1534.0 1291.4L1535.0 1338.5L1536.0 1368.0L1537.0 1342.4L1538.0 1301.2L1539.0 1301.5L1540.0 1290.2L1541.0 1294.2L1542.0 1297.9L1543.0 1287.8L1544.0 1294.1L1545.0 1290.7L1546.0 1288.5L1547.0 1296.8L1548.0 1299.3L1549.0 1292.8L1550.0 1300.7L1551.0 1292.2L1552.0 1285.5L1553.0 1287.8L1554.0 1300.4L1555.0 1311.5L1556.0 1296.8L1557.0 1297.6L1558.0 1285.6L1559.0 1300.5L1560.0 1298.5L1561.0 1289.0L1562.0 1301.6L1563.0 1298.0L1564.0 1280.4L1565.0 1282.3L1566.0 1290.0L1567.0 1293.6L1568.0 1307.6L1568.9 1290.8L1569.9 1295.8L1570.8 1294.1L1571.7 1302.2L1572.6 1296.6L1573.4 1298.4L1574.2 1293.2L1574.9 1285.3L1575.5 1294.3L1576.0 1296.0"/>
<path stroke="#0000ff" d="M787.9 1298.4L788.5 1301.6L789.1 1301.8L789.7 1295.6L790.5 1295.8L791.3 1307.4L792.1 1296.1L793.0 1314.6L793.9 1335.5L794.9 1335.3L795.8 1319.7L796.8 1278.6L797.8 1333.9L798.7 1281.2L799.7 1280.2L800.7 1305.1L801.7 1302.6L802.7 1314.6L803.7 1302.2L804.7 1290.3L805.7 1301.6L806.7 1285.1L807.7 1282.4L808.7 1295.5L809.7 1295.8L810.7 1302.9L811.7 1331.7L812.7 1368.0L813.7 1331.2L814.7 1297.9L815.7 1320.8L816.7 1274.7L817.7 1366.0L818.7 1320.9L819.7 1296.5L820.7 1357.3L821.7 1318.8L822.7 1340.6L823.7 1323.4L824.7 1304.1L825.7 1295.7L826.7 1283.3L827.7 1287.7L828.7 1282.1L829.7 1291.1L830.7 1311.0L831.7 1283.1L832.7 1311.4L833.7 1314.3L834.7 1277.4L835.7 1287.8L836.7 1297.2L837.7 1288.4L838.7 1286.4L839.7 1334.7L840.7 1303.0L841.7 1329.0L842.7 1298.9L843.7 1315.4L844.7 1323.7L845.7 1368.0L846.7 1343.4L847.7 1301.4L848.7 1329.7L849.7 1300.2L850.7 1291.4L851.7 1296.1L852.7 1355.9L853.7 1307.6L854.7 1291.9L855.7 1295.3L856.7 1281.9L857.7 1331.6L858.7 1291.5L859.7 1314.4L860.7 1297.0L861.7 1293.3L862.7 1288.7L863.7 1312.5L864.7 1297.1L865.7 1327.7L866.7 1335.1L867.7 1290.6L868.7 1301.4L869.7 1342.2L870.7 1318.8L871.7 1299.9L872.7 1276.1L873.7 1283.0L874.7 1286.6L875.7 1348.2L876.7 1301.9L877.7 1291.6L878.7 1292.9L879.7 1292.5L880.7 1304.4L881.7 1273.2L882.7 1276.8L883.7 1301.5L884.7 1321.5L885.7 1273.1L886.7 1311.0L887.7 1280.4L888.7 1273.0L889.7 1320.3L890.7 1294.2L891.7 1306.3L892.6 1290.4L893.6 1293.6L894.6 1272.8L895.6 1289.1L896.6 1299.4L897.6 1281.0L898.6 1304.4L899.6 1306.3L900.6 1272.6L901.6 1316.5L902.6 1308.8L903.6 1298.0L904.6 1322.4L905.6 1357.0L906.6 1281.6L907.6 1315.2L908.6 1309.5L909.6 1305.8L910.6 1320.0L911.6 1322.4L912.6 1295.4L913.6 1272.0L914.6 1285.8L915.6 1285.6L916.6 1334.9L917.6 1298.5L918.6 1324.8L919.6 1285.0L920.6 1302.2L921.6 1297.1L922.6 1299.4L923.6 1309.5L924.6 1334.7L925.6 1287.7L926.6 1330.1L927.6 1324.1L928.6 1303.1L929.6 1311.8L930.6 1292.6L931.6 1280.9L932.6 1292.7L933.6 1293.5L934.6 1296.6L935.6 1282.9L936.6 1345.3L937.6 1290.4L938.6 1316.6L939.6 1324.6L940.6 1296.5L941.6 1304.1L942.6 1286.7L943.6 1279.0L944.6 1352.6L945.6 1297.7L946.6 1270.4L947.6 1282.1L948.6 1274.2L949.6 1294.2L950.6 1329.6L951.6 1320.6L952.6 1284.1L953.5 1280.4L954.5 1310.5L955.5 1300.7L956.5 1291.0L957.5 1339.3L958.5 1302.0L959.5 1271.3L960.5 1269.5L961.5 1297.1L962.5 1269.4L963.5 1305.2L964.5 1311.4L965.5 1349.6L966.5 1279.6L967.5 1301.7L968.5 1269.0L969.5 1288.8L970.5 1291.1L971.5 1339.5L972.5 1271.9L973.5 1301.0L974.5 1297.0L975.5 1348.1L976.5 1279.3L977.5 1278.3L978.5 1305.5L979.5 1292.0L980.5 1287.0L981.5 1278.4L982.5 1291.6L983.5 1268.5L984.5 1297.7L985.5 1304.9L986.4 1301.9L987.4 1346.4L988.4 1309.0L989.4 1277.2L990.4 1288.2L991.4 1309.0L992.4 1286.7L993.4 1344.5L994.4 1297.6L995.4 1283.7L996.4 1281.1L997.4 1307.4L998.4 1277.8L999.4 1267.0L1000.4 1299.8L1001.4 1280.0L1002.4 1327.1L1003.4 1340.7L1004.4 1281.6L1005.4 1290.6L1006.4 1287.9L1007.4 1302.2L1008.4 1296.4L1009.4 1278.3L1010.4 1266.6L1011.4 1294.6L1012.3 1328.5L1013.3 1271.7L1014.3 1280.9L1015.3 1279.6L1016.3 1287.2L1017.3 1265.6L1018.3 1288.8L1019.3 1281.7L1020.3 1333.9L1021.3 1300.5L1022.3 1302.6L1023.3 1290.0L1024.3 1283.8L1025.3 1303.6L1026.3 1265.1L1027.3 1310.5L1028.3 1297.2L1029.3 1285.0L1030.3 1314.6L1031.3 1279.8L1032.2 1278.8L1033.2 1293.7L1034.2 1264.2L1035.2 1287.0L1036.2 1283.7L1037.2 1306.8L1038.2 1325.3L1039.2 1299.5L1040.2 1293.5L1041.2 1295.9L1042.2 1275.9L1043.2 1336.9L1044.2 1309.9L1045.2 1329.0L1046.2 1268.1L1047.2 1297.3L1048.2 1296.2L1049.2 1308.5L1050.2 1273.4L1051.1 1293.9L1052.1 1282.9L1053.1 1334.5L1054.1 1269.4L1055.1 1279.9L1056.1 1277.5L1057.1 1268.2L1058.1 1289.0L1059.1 1288.4L1060.1 1274.7L1061.1 1278.7L1062.1 1289.3L1063.0 1284.3L1064.0 1293.7L1065.0 1274.1L1066.0 1271.0L1067.0 1284.4L1068.0 1261.0L1069.0 1315.9L1070.0 1288.0L1071.0 1261.0L1072.0 1291.0L1073.0 1316.9L1073.9 1264.3L1074.9 1275.2L1075.9 1306.1L1076.9 1271.8L1077.9 1302.0L1078.9 1309.1L1079.9 1285.2L1080.9 1290.8L1081.9 1302.9L1082.9 1288.4L1083.9 1300.6L1084.8 1281.1L1085.8 1282.3L1086.8 1270.9L1087.8 1289.2L1088.8 1307.0L1089.8 1306.6L1090.8 1285.2L1091.8 1260.6L1092.8 1268.8L1093.8 1291.7L1094.7 1267.3L1095.7 1301.8L1096.7 1266.1L1097.7 1286.4L1098.7 1269.0L1099.7 1270.8L1100.7 1284.1L1101.7 1274.6L1102.7 1298.4L1103.6 1280.3L1104.6 1264.3L1105.6 1256.6L1106.6 1268.8L1107.6 1277.3L1108.6 1296.1L1109.6 1264.0L1110.6 1310.1L1111.5 1291.4L1112.5 1272.6L1113.5 1299.0L1114.5 1257.8L1115.5 1262.8L1116.5 1286.2L1117.5 1285.8L1118.4 1300.2L1119.4 1301.6L1120.4 1270.1L1121.4 1267.5L1122.3 1270.9L1123.3 1271.8L1124.3 1284.0L1125.2 1270.0L1126.2 1300.7L1127.1 1274.4L1128.1 1256.0L1129.1 1257.4L1130.0 1280.6L1131.0 1278.3L1131.9 1256.1L1132.9 1252.1L1133.8 1298.0L1134.8 1278.5L1135.8 1268.7L1136.7 1256.6L1137.7 1284.1L1138.6 1262.8L1139.6 1275.0L1140.5 1250.3L1141.5 1264.5L1142.4 1271.7L1143.4 1274.2L1144.3 1256.4L1145.2 1260.3L1146.2 1284.9L1147.1 1265.3L1147.9 1288.4L1148.8 1278.0L1149.7 1286.4L1150.5 1286.4L1151.3 1275.2L1152.1 1279.1L1152.9 1258.1L1153.6 1254.5L1154.4 1266.3L1155.2 1278.1L1155.9 1252.9L1156.6 1291.6L1157.4 1288.5L1158.1 1252.0L1158.8 1252.2L1159.5 1248.5L1160.3 1260.2L1161.0 1272.3L1161.7 1262.0L1162.4 1250.1L1163.1 1263.3L1163.8 1261.7L1164.5 1268.9L1165.2 1265.1L1165.9 1244.5L1166.5 1247.2L1167.1 1262.1L1167.8 1260.2L1168.3 1254.0L1168.9 1243.6L1169.5 1257.9L1170.0 1247.8L1170.5 1264.7L1171.1 1255.5L1171.6 1240.7L1172.1 1236.6L1172.6 1251.3L1173.1 1247.1L1173.5 1235.0L1174.0 1242.3L1174.5 1242.4L1175.0 1234.4L1175.5 1235.6L1176.0 1229.3L1176.5 1230.3L1177.0 1237.8L1177.4 1234.0L1177.9 1232.8L1178.4 1239.8L1178.9 1236.4L1179.4 1224.7L1179.9 1238.0L1180.4 1223.1L1180.9 1225.7L1181.4 1227.0L1181.8 1222.9L1182.3 1222.3L1182.8 1218.3L1183.3 1224.7L1183.8 1223.0L1184.3 1222.1L1184.8 1213.1L1185.3 1215.5L1185.8 1222.4L1186.3 1218.9L1186.8 1219.5L1187.3 1215.8L1187.8 1214.2L1188.3 1208.0L1188.8 1220.2L1189.3 1208.8L1189.8 1210.0L1190.3 1213.0L1190.8 1210.3L1191.3 1210.5L1191.8 1207.9L1192.4 1204.1L1192.9 1211.1L1193.4 1201.6L1193.9 1205.7L1194.4 1199.6L1194.9 1201.7L1195.4 1198.7L1195.9 1199.6L1196.4 1197.5L1197.0 1199.3L1197.5 1200.7L1198.0 1196.1L1198.5 1195.1L1199.0 1192.0L1199.5 1199.9L1200.1 1194.7L1200.6 1191.1L1201.1 1195.3L1201.6 1192.1L1202.1 1187.3L1202.6 1187.1L1203.0 1190.8L1203.5 1185.5L1204.0 1185.1L1204.4 1185.0L1204.8 1184.8L1205.2 1184.1L1205.5 1185.2L1205.9 1183.6L1206.2 1180.6L1206.5 1180.6L1206.8 1177.2L1207.1 1179.4L1207.3 1181.1L1207.6 1177.5L1207.8 1175.6L1208.1 1174.5L1208.3 1174.0L1208.6 1174.2L1208.8 1170.2L1209.1 1172.0L1209.3 1169.3L1209.5 1169.6L1209.8 1169.7L1210.0 1165.7L1210.3 1168.7L1210.5 1166.3L1210.7 1163.9L1211.0 1163.8L1211.2 1161.7L1211.4 1161.6L1211.7 1160.9L1211.9 1157.9L1212.2 1158.7L1212.4 1157.7L1212.6 1157.6L1212.9 1156.3L1213.1 1154.1L1213.3 1153.2L1213.5 1152.7L1213.7 1152.3L1213.9 1150.2L1214.1 1151.0L1214.3 1149.0L1214.5 1148.0L1214.6 1147.4L1214.8 1145.7L1215.0 1145.3L1215.1 1144.4L1215.2 1141.8L1215.4 1141.4L1215.5 1140.1L1215.6 1139.8L1215.8 1138.3L1215.9 1137.4L1216.0 1136.2L1216.1 1135.0L1216.2 1135.0L1216.4 1133.8L1216.5 1132.9L1216.6 1133.0L1216.7 1131.6L1216.9 1129.9L1217.0 1128.7L1217.1 1128.2L1217.2 1126.5L1217.4 1125.4L1217.5 1125.1L1217.6 1123.4L1217.7 1122.3L1217.9 1121.8L1218.0 1121.4L1218.1 1119.5L1218.2 1119.1L1218.3 1118.2L1218.5 1117.0L1218.6 1116.2L1218.7 1114.7L1218.8 1113.8L1219.0 1112.7L1219.1 1111.9L1219.2 1111.3L1219.4 1110.1L1219.5 1108.9L1219.7 1108.2L1219.8 1106.7L1220.0 1106.2L1220.1 1105.3L1220.8 1101.3L1221.7 1095.1L1222.7 1089.3L1223.7 1083.5L1224.7 1077.6L1225.7 1071.6L1226.7 1065.7L1227.6 1059.8L1228.6 1053.9L1229.5 1048.0L1230.4 1042.0L1231.3 1036.1L1232.2 1030.2L1233.1 1024.1L1234.0 1018.2L1234.9 1012.3L1235.8 1006.4L1236.7 1000.5L1237.6 994.5L1238.4 988.6L1239.3 982.6L1240.0 976.7L1240.6 970.7L1241.2 964.7L1241.8 958.8L1242.4 952.8L1243.0 946.8L1243.6 940.8L1244.2 934.9L1244.9 928.9L1245.5 922.9L1246.1 917.0L1246.7 911.0L1247.3 905.0L1247.9 899.1L1248.4 893.1L1249.0 887.1L1249.4 881.1L1249.9 875.2L1250.4 869.2L1250.9 863.2L1251.3 857.2L1251.8 851.2L1252.3 845.2L1252.8 839.3L1253.2 833.3L1253.6 827.3L1253.9 821.3L1254.1 815.3L1254.4 809.3L1254.6 803.3L1254.9 797.3L1255.2 791.3L1255.4 785.3L1255.7 779.3L1255.9 773.3L1256.2 767.3L1256.4 761.3L1256.7 755.3L1256.9 749.4L1257.1 743.4L1257.4 737.4L1257.6 731.4L1257.9 725.4L1258.1 719.4L1258.3 713.4L1258.6 707.4L1258.8 701.4L1259.0 695.4L1259.3 689.4L1259.5 683.4L1260.0 677.4L1260.8 671.5L1261.8 665.6L1262.8 659.7L1263.8 653.7L1264.8 647.8L1265.8 641.9L1266.8 636.0L1267.5 630.0L1268.0 624.1L1268.2 618.1L1268.4 612.1L1268.6 606.1L1268.8 600.1L1269.0 594.1L1269.2 588.1L1269.4 582.1L1269.6 576.1L1269.8 570.1L1270.0 564.1L1270.2 558.1L1270.4 552.1L1270.6 546.1L1270.8 540.1L1271.0 534.1L1271.2 528.1L1271.4 522.1L1271.6 516.1L1271.7 510.1L1271.9 504.1L1272.1 498.1L1272.2 492.1L1272.4 486.1L1272.6 480.1L1272.7 474.1L1272.9 468.1L1273.1 462.1L1273.3 456.1L1273.4 450.1L1273.6 444.1L1273.8 438.1L1273.9 432.1L1274.1 426.1L1274.3 420.1L1274.5 414.2L1274.8 408.2L1275.3 402.2L1276.1 396.3L1277.3 390.4L1279.3 385.0L1282.8 381.3L1287.2 381.1L1290.8 384.5L1293.0 389.7L1294.2 395.5L1295.1 401.5L1295.8 407.4L1296.2 413.4L1296.5 419.4L1296.7 425.4L1296.9 431.4L1297.1 437.4L1297.3 443.4L1297.5 449.4L1297.7 455.4L1297.9 461.4L1298.1 467.4L1298.3 473.4L1298.5 479.4L1298.7 485.4L1298.9 491.4L1299.1 497.4L1299.3 503.4L1299.5 509.4L1299.7 515.3L1300.0 521.3L1300.3 527.3L1300.6 533.3L1300.9 539.3L1301.2 545.3L1301.5 551.3L1301.7 557.3L1302.0 563.3L1302.3 569.3L1302.6 575.3L1302.9 581.3L1303.2 587.3L1303.5 593.3L1303.8 599.3L1304.1 605.2L1304.4 611.2L1304.7 617.2L1305.0 623.2L1305.5 629.2L1306.0 635.2L1306.6 641.2L1307.2 647.1L1307.8 653.1L1308.4 659.1L1309.0 665.0L1309.6 671.0L1310.2 677.0L1310.8 682.9L1311.4 688.9L1312.0 694.9L1312.5 700.9L1312.9 706.9L1313.2 712.9L1313.5 718.8L1313.8 724.8L1314.1 730.8L1314.4 736.8L1314.8 742.8L1315.1 748.8L1315.4 754.8L1315.7 760.8L1316.0 766.8L1316.3 772.8L1316.6 778.8L1316.9 784.8L1317.3 790.8L1317.6 796.7L1317.9 802.7L1318.3 808.7L1318.8 814.7L1319.3 820.7L1319.7 826.7L1320.2 832.6L1320.7 838.6L1321.2 844.6L1321.6 850.6L1322.1 856.6L1322.6 862.6L1323.1 868.5L1323.6 874.5L1324.0 880.5L1324.5 886.5L1325.0 892.5L1325.5 898.4L1326.0 904.4L1326.6 910.4L1327.2 916.4L1327.9 922.3L1328.5 928.3L1329.2 934.3L1329.8 940.2L1330.5 946.2L1331.1 952.2L1331.8 958.1L1332.4 964.1L1333.1 970.1L1333.7 976.0L1334.4 982.0L1335.0 987.9L1335.7 993.9L1336.4 999.9L1337.2 1005.8L1338.1 1011.7L1339.0 1017.7L1339.9 1023.6L1340.8 1029.5L1341.7 1035.5L1342.6 1041.4L1343.5 1047.5L1344.4 1053.3L1345.3 1059.2L1346.2 1065.2L1347.1 1071.1L1348.1 1077.1L1349.1 1082.8L1350.3 1088.8L1351.7 1094.3L1353.1 1100.2L1354.4 1106.1L1355.8 1112.3L1356.1 1112.8L1356.3 1113.6L1356.5 1115.0L1356.7 1116.3L1357.0 1116.8L1357.2 1118.6L1357.4 1119.2L1357.7 1119.5L1357.9 1120.7L1358.1 1122.3L1358.4 1123.4L1358.6 1123.5L1358.8 1124.8L1359.0 1126.0L1359.3 1126.6L1359.5 1127.9L1359.7 1129.4L1360.0 1129.4L1360.2 1130.9L1360.4 1132.0L1360.7 1133.2L1360.9 1133.5L1361.1 1134.9L1361.4 1135.2L1361.6 1136.6L1361.8 1137.0L1362.1 1138.6L1362.3 1139.7L1362.5 1141.4L1362.8 1141.9L1363.1 1141.9L1363.3 1142.3L1363.6 1144.9L1363.9 1145.8L1364.2 1145.9L1364.5 1146.8L1364.8 1148.5L1365.1 1148.9L1365.4 1151.0L1365.7 1151.1L1366.1 1151.2L1366.4 1151.7L1366.7 1153.8L1367.1 1154.8L1367.4 1155.3L1367.7 1155.7L1368.1 1157.1L1368.4 1159.0L1368.8 1159.1L1369.1 1159.5L1369.4 1161.9L1369.8 1163.3L1370.1 1162.7L1370.5 1163.8L1370.8 1164.2L1371.1 1165.9L1371.5 1167.5L1371.8 1168.3L1372.1 1169.8L1372.5 1170.7L1372.8 1171.3L1373.2 1172.1L1373.5 1171.4L1373.8 1174.9L1374.2 1174.5L1374.5 1176.1L1374.9 1174.6L1375.2 1177.0L1375.6 1178.7L1375.9 1178.1L1376.3 1180.0L1376.6 1181.6L1377.0 1179.9L1377.3 1181.9L1377.7 1181.4L1378.1 1183.1L1378.5 1184.5L1378.9 1186.4L1379.3 1189.2L1379.7 1187.3L1380.2 1189.2L1380.6 1189.1L1381.0 1191.1L1381.5 1193.2L1381.9 1194.7L1382.4 1192.5L1382.8 1192.3L1383.3 1196.1L1383.7 1195.6L1384.2 1194.7L1384.6 1199.9L1385.1 1199.8L1385.5 1202.4L1386.0 1198.5L1386.4 1201.2L1386.9 1203.7L1387.3 1207.4L1387.8 1204.9L1388.3 1203.1L1388.8 1207.0L1389.2 1208.2L1389.7 1206.4L1390.2 1212.1L1390.7 1209.6L1391.3 1209.0L1391.8 1213.5L1392.4 1214.5L1392.9 1212.3L1393.5 1214.1L1394.1 1215.3L1394.7 1214.8L1395.3 1215.6L1395.9 1220.0L1396.5 1220.0L1397.1 1217.2L1397.7 1215.9L1398.4 1215.9L1399.0 1223.9L1399.6 1218.1L1400.2 1220.0L1400.8 1223.5L1401.4 1222.4L1402.1 1221.9L1402.7 1219.4L1403.3 1230.7L1403.9 1225.0L1404.5 1228.7L1405.1 1229.7L1405.8 1225.1L1406.4 1227.1L1407.0 1235.7L1407.7 1233.2L1408.3 1231.7L1409.0 1240.2L1409.7 1230.3L1410.4 1235.2L1411.1 1234.8L1411.8 1234.6L1412.6 1228.8L1413.3 1237.4L1414.1 1240.1L1414.8 1230.5L1415.6 1242.2L1416.4 1243.0L1417.1 1248.8L1417.9 1235.7L1418.7 1240.5L1419.5 1240.0L1420.3 1242.3L1421.1 1244.7L1421.8 1249.4L1422.6 1250.0L1423.4 1243.2L1424.2 1245.6L1425.0 1237.5L1425.8 1252.7L1426.6 1251.5L1427.3 1256.0L1428.1 1240.9L1428.9 1259.1L1429.7 1245.6L1430.5 1242.0L1431.3 1252.9L1432.1 1247.5L1432.9 1270.7L1433.7 1256.7L1434.5 1268.3L1435.3 1253.7L1436.1 1255.5L1436.9 1262.6L1437.7 1249.7L1438.4 1254.6L1439.2 1262.5L1440.0 1263.1L1440.8 1273.1L1441.6 1261.5L1442.4 1246.8L1443.2 1267.7L1444.0 1258.0L1444.8 1267.4L1445.7 1255.8L1446.5 1259.4L1447.3 1266.2L1448.1 1284.1L1449.0 1270.1L1449.8 1254.9L1450.7 1268.3L1451.6 1260.6L1452.5 1271.6L1453.4 1288.6L1454.3 1263.6L1455.2 1265.0L1456.1 1274.3L1457.1 1272.5L1458.0 1266.3L1458.9 1275.6L1459.9 1266.4L1460.8 1272.2L1461.7 1296.1L1462.7 1272.3L1463.6 1277.5L1464.6 1280.6L1465.5 1267.9L1466.4 1277.3L1467.4 1267.2L1468.3 1262.5L1469.3 1271.7L1470.2 1291.8L1471.2 1281.8L1472.1 1265.2L1473.1 1277.0L1474.1 1283.5L1475.0 1275.7L1476.0 1269.9L1477.0 1272.5L1477.9 1268.9L1478.9 1284.8L1479.9 1278.6L1480.9 1278.5L1481.9 1276.2L1482.9 1303.3L1483.9 1278.7L1484.9 1292.4L1485.8 1263.2L1486.8 1261.8L1487.8 1260.9L1488.8 1268.7L1489.8 1282.2L1490.8 1267.5L1491.8 1279.2L1492.8 1270.9L1493.8 1287.7L1494.8 1284.0L1495.8 1272.7L1496.8 1261.3L1497.8 1278.0L1498.8 1261.4L1499.8 1261.5L1500.8 1293.6L1501.8 1278.4L1502.7 1289.4L1503.7 1279.8L1504.7 1284.5L1505.7 1279.3L1506.7 1269.0L1507.7 1269.3L1508.7 1276.1L1509.7 1278.9L1510.7 1277.8L1511.7 1277.8L1512.7 1273.3L1513.7 1279.3L1514.7 1274.2L1515.7 1295.8L1516.7 1271.6L1517.7 1263.2L1518.7 1277.9L1519.7 1297.8L1520.6 1266.8L1521.6 1284.0L1522.6 1309.3L1523.6 1282.9L1524.6 1274.2L1525.6 1276.6L1526.6 1268.4L1527.6 1274.4L1528.6 1279.6L1529.6 1308.0L1530.6 1294.9L1531.6 1279.3L1532.6 1274.3L1533.6 1294.1L1534.6 1288.8L1535.6 1276.6L1536.6 1307.8L1537.6 1308.5L1538.6 1284.6L1539.5 1279.3L1540.5 1287.8L1541.5 1311.9L1542.5 1282.1L1543.5 1299.5L1544.5 1275.6L1545.5 1283.8L1546.5 1279.8L1547.5 1276.0L1548.5 1289.2L1549.5 1274.3L1550.5 1270.4L1551.5 1278.9L1552.5 1269.8L1553.5 1291.0L1554.5 1273.9L1555.5 1280.6L1556.5 1296.1L1557.5 1284.7L1558.5 1290.2L1559.5 1290.6L1560.5 1283.1L1561.4 1273.1L1562.4 1288.0L1563.4 1283.0L1564.4 1304.0L1565.4 1283.3L1566.4 1272.6L1567.4 1276.1L1568.4 1279.6L1569.4 1291.3L1570.4 1297.4L1571.4 1286.2L1572.4 1303.0L1573.4 1301.5L1574.4 1275.4L1575.4 1297.2L1576.4 1268.2L1577.4 1305.0L1578.4 1281.0L1579.4 1301.3L1580.4 1284.0L1581.4 1299.6L1582.4 1285.7L1583.3 1288.1L1584.3 1291.9L1585.3 1280.8L1586.3 1271.0L1587.3 1294.0L1588.3 1277.1L1589.3 1285.8L1590.3 1287.2L1591.3 1269.4L1592.3 1318.5L1593.3 1295.7L1594.3 1313.1L1595.3 1291.0L1596.3 1290.0L1597.3 1269.7L1598.3 1283.4L1599.3 1269.7L1600.3 1273.7L1601.3 1292.9L1602.3 1282.1L1603.3 1270.4L1604.3 1285.5L1605.3 1285.2L1606.3 1282.0L1607.3 1308.6L1608.3 1298.1L1609.3 1283.9L1610.3 1281.6L1611.3 1299.8L1612.3 1291.8L1613.3 1289.4L1614.3 1289.7L1615.3 1280.2L1616.3 1286.7L1617.3 1286.1L1618.3 1307.6L1619.3 1302.0L1620.3 1284.4L1621.3 1310.7L1622.3 1285.1L1623.3 1296.6L1624.3 1298.8L1625.3 1281.0L1626.3 1297.0L1627.3 1299.6L1628.3 1297.1L1629.3 1287.8L1630.3 1270.6L1631.3 1320.6L1632.3 1288.8L1633.3 1291.6L1634.3 1278.2L1635.3 1293.3L1636.3 1320.8L1637.3 1274.6L1638.3 1303.5L1639.3 1289.6L1640.3 1307.9L1641.3 1303.7L1642.3 1295.3L1643.3 1279.5L1644.3 1279.7L1645.3 1296.7L1646.3 1283.4L1647.3 1293.8L1648.3 1287.9L1649.3 1287.4L1650.3 1282.2L1651.3 1297.3L1652.3 1291.0L1653.3 1286.9L1654.3 1288.4L1655.3 1300.0L1656.3 1271.6L1657.3 1295.5L1658.3 1281.1L1659.3 1287.3L1660.3 1276.5L1661.3 1322.1L1662.3 1271.6L1663.3 1292.5L1664.3 1307.0L1665.3 1288.4L1666.3 1271.8L1667.3 1284.2L1668.3 1307.2L1669.3 1296.0L1670.3 1275.7L1671.3 1339.1L1672.3 1368.0L1673.3 1331.0L1674.3 1272.1L1675.3 1294.1L1676.3 1276.2L1677.3 1299.3L1678.3 1301.2L1679.3 1279.4L1680.3 1283.4L1681.3 1316.4L1682.3 1283.3L1683.3 1283.3L1684.3 1298.8L1685.3 1288.2L1686.3 1287.6L1687.3 1297.2L1688.3 1298.6L1689.3 1299.8L1690.2 1294.5L1691.2 1310.0L1692.2 1291.7L1693.2 1312.9L1694.2 1290.3L1695.2 1292.3L1696.2 1305.6L1697.2 1281.7L1698.2 1273.0L1699.2 1277.0L1700.2 1311.2L1701.2 1277.7L1702.2 1289.1L1703.2 1292.5L1704.2 1333.9L1705.2 1368.0L1706.2 1322.5L1707.2 1285.8L1708.2 1297.7L1709.2 1301.3L1710.2 1297.9L1711.2 1285.7L1712.2 1366.0L1713.2 1307.6L1714.2 1292.9L1715.2 1298.0L1716.2 1303.3L1717.2 1288.4L1718.2 1286.7L1719.2 1314.3L1720.1 1308.0L1721.1 1280.1L1722.1 1289.8L1723.1 1287.5L1724.1 1300.5L1725.1 1299.0L1726.1 1288.5L1727.1 1300.8L1728.1 1310.1L1729.1 1294.4L1730.1 1283.9L1731.1 1309.2L1732.1 1282.5L1733.1 1286.4L1734.1 1306.9L1735.1 1294.9L1736.1 1295.6L1737.1 1287.6L1738.1 1287.3L1739.1 1314.6L1740.1 1315.5L1741.0 1283.6L1742.0 1294.2L1743.0 1290.6L1744.0 1291.7L1745.0 1278.8L1746.0 1313.8L1747.0 1283.5L1748.0 1307.8L1749.0 1287.6L1750.0 1281.2L1751.0 1317.4L1752.0 1329.8L1752.9 1368.0L1753.9 1334.3L1754.9 1296.1L1755.8 1311.9L1756.8 1310.3L1757.7 1288.4L1758.6 1286.2L1759.5 1303.7L1760.3 1317.7L1761.2 1276.2L1762.0 1282.2L1762.8 1289.9L1763.5 1308.2L1764.3 1300.9L1765.0 1289.6L1765.6 1304.9L1766.3 1274.1L1766.9 1288.8L1767.5 1285.1L1768.0 1302.5L1768.6 1299.8L1769.1 1297.2L1769.5 1283.2L1770.0 1288.6L1770.5 1287.9L1770.9 1280.2L1771.3 1280.2L1771.7 1267.1L1772.1 1283.1L1772.5 1292.2L1772.9 1279.2L1773.3 1264.1L1773.7 1283.4L1774.1 1275.8L1774.5 1279.2L1774.8 1270.4L1775.2 1270.9L1775.5 1281.4L1775.9 1274.0L1776.3 1261.9L1776.6 1259.8L1776.9 1260.4L1777.3 1260.1L1777.6 1270.4L1777.9 1269.8L1778.2 1257.1L1778.5 1276.8L1778.7 1264.5L1778.9 1278.8L1779.2 1264.3L1779.3 1261.9"/>
<path stroke="#007c7c" d="M1102.0 1254.9L1102.5 1254.3L1103.1 1256.4L1103.8 1256.2L1104.6 1256.2L1105.4 1259.9L1106.3 1244.2L1107.2 1288.8L1108.1 1318.0L1109.0 1293.9L1110.0 1259.7L1111.0 1258.0L1112.0 1257.7L1113.0 1260.7L1114.0 1253.0L1115.0 1240.2L1116.0 1255.6L1117.0 1255.6L1118.0 1258.2L1119.0 1233.7L1120.0 1239.5L1121.0 1248.5L1122.0 1247.1L1123.0 1261.4L1123.9 1255.3L1124.9 1251.6L1125.9 1252.4L1126.9 1262.9L1127.9 1261.9L1128.9 1248.5L1129.9 1250.4L1130.9 1279.3L1131.9 1252.5L1132.9 1241.7L1133.9 1260.2L1134.9 1251.0L1135.9 1270.0L1136.9 1245.5L1137.9 1280.8L1138.9 1296.0L1139.9 1276.3L1140.9 1233.1L1141.9 1259.8L1142.9 1267.5L1143.9 1248.8L1144.9 1251.1L1145.9 1238.5L1146.9 1267.5L1147.9 1271.8L1148.9 1256.6L1149.9 1249.6L1150.9 1249.8L1151.9 1243.3L1152.9 1270.4L1153.9 1262.2L1154.9 1254.6L1155.9 1245.4L1156.9 1248.7L1157.9 1257.7L1158.9 1264.5L1159.9 1245.0L1160.9 1244.4L1161.9 1233.1L1162.9 1255.1L1163.9 1238.8L1164.9 1266.8L1165.9 1259.0L1166.9 1260.5L1167.9 1258.1L1168.9 1262.8L1169.9 1259.0L1170.9 1253.9L1171.9 1258.0L1172.9 1247.0L1173.9 1254.1L1174.9 1253.3L1175.9 1240.0L1176.9 1250.2L1177.9 1251.8L1178.9 1253.5L1179.9 1252.7L1180.9 1247.8L1181.9 1261.9L1182.9 1242.8L1183.9 1239.2L1184.9 1242.7L1185.9 1258.4L1186.9 1271.7L1187.9 1257.8L1188.9 1251.8L1189.9 1245.5L1190.9 1255.2L1191.9 1256.4L1192.9 1239.6L1193.9 1260.4L1194.9 1243.4L1195.9 1244.8L1196.9 1268.2L1197.9 1250.5L1198.9 1259.1L1199.9 1263.5L1200.9 1275.2L1201.9 1271.2L1202.9 1249.1L1203.9 1257.1L1204.9 1250.4L1205.9 1264.7L1206.9 1256.3L1207.9 1255.8L1208.9 1270.7L1209.9 1272.2L1210.9 1248.6L1211.9 1251.4L1212.9 1262.9L1213.9 1253.8L1214.9 1246.5L1215.9 1236.7L1216.9 1262.2L1217.9 1246.8L1218.9 1234.4L1219.9 1251.9L1220.9 1239.4L1221.9 1284.5L1222.9 1239.5L1223.9 1252.5L1224.9 1274.5L1225.9 1245.0L1226.9 1242.6L1227.9 1241.3L1228.9 1241.3L1229.9 1252.5L1230.9 1260.0L1231.9 1256.8L1232.9 1252.4L1233.9 1248.1L1234.9 1256.9L1235.9 1251.5L1236.9 1243.8L1237.9 1248.7L1238.9 1232.4L1239.9 1233.4L1240.9 1264.3L1241.9 1257.6L1242.9 1266.2L1243.9 1264.4L1244.9 1246.4L1245.9 1262.2L1246.9 1262.8L1247.9 1254.2L1248.9 1244.0L1249.9 1255.0L1250.9 1255.0L1251.9 1242.9L1252.9 1246.8L1253.9 1246.9L1254.9 1242.5L1255.9 1262.0L1256.9 1249.1L1257.9 1257.7L1258.9 1241.7L1259.9 1243.5L1260.9 1262.2L1261.9 1239.0L1262.9 1263.6L1263.9 1240.3L1264.9 1248.9L1265.9 1260.0L1266.9 1262.8L1267.9 1253.8L1268.9 1250.9L1269.9 1258.1L1270.9 1245.3L1271.9 1266.1L1272.9 1250.6L1273.9 1250.5L1274.9 1272.1L1275.9 1247.5L1276.9 1264.2L1277.9 1281.3L1278.9 1256.6L1279.9 1252.5L1280.9 1241.9L1281.9 1255.1L1282.9 1237.1L1283.9 1237.4L1284.9 1240.1L1285.9 1238.2L1286.9 1246.5L1287.9 1255.5L1288.9 1243.7L1289.9 1240.9L1290.9 1247.3L1291.9 1252.0L1292.9 1267.0L1293.9 1243.2L1294.9 1246.1L1295.9 1263.4L1296.9 1248.3L1297.9 1242.6L1298.9 1250.2L1299.9 1241.9L1300.9 1242.1L1301.9 1265.2L1302.9 1251.9L1303.8 1244.3L1304.8 1240.5L1305.8 1236.4L1306.8 1270.6L1307.8 1249.2L1308.8 1242.0L1309.8 1237.6L1310.8 1233.9L1311.8 1258.0L1312.8 1252.0L1313.8 1259.3L1314.8 1240.7L1315.8 1262.3L1316.8 1237.6L1317.8 1239.6L1318.8 1243.4L1319.8 1273.1L1320.8 1254.6L1321.8 1240.9L1322.8 1262.9L1323.8 1249.9L1324.8 1248.5L1325.8 1239.5L1326.8 1244.8L1327.8 1244.8L1328.8 1251.6L1329.8 1247.2L1330.8 1248.5L1331.8 1240.5L1332.8 1248.8L1333.8 1237.8L1334.8 1265.6L1335.8 1236.4L1336.8 1248.4L1337.8 1236.9L1338.8 1245.9L1339.8 1239.0L1340.8 1233.8L1341.8 1252.0L1342.8 1245.7L1343.8 1248.0L1344.8 1244.4L1345.8 1263.8L1346.8 1247.9L1347.8 1248.6L1348.8 1254.0L1349.8 1247.9L1350.8 1262.5L1351.8 1234.0L1352.8 1241.8L1353.8 1230.2L1354.8 1254.6L1355.8 1257.8L1356.8 1243.1L1357.8 1263.6L1358.8 1243.5L1359.8 1252.5L1360.8 1248.7L1361.8 1243.1L1362.8 1244.9L1363.7 1229.9L1364.7 1239.6L1365.7 1258.6L1366.7 1236.6L1367.7 1259.0L1368.7 1244.2L1369.7 1257.9L1370.7 1253.2L1371.7 1233.7L1372.7 1250.2L1373.7 1251.1L1374.7 1250.2L1375.7 1247.6L1376.7 1232.4L1377.7 1256.6L1378.7 1257.2L1379.7 1239.3L1380.7 1261.3L1381.7 1247.8L1382.7 1234.6L1383.7 1244.2L1384.7 1248.8L1385.7 1251.1L1386.7 1253.2L1387.7 1249.8L1388.7 1242.7L1389.7 1233.4L1390.7 1235.5L1391.7 1249.3L1392.7 1250.9L1393.7 1237.6L1394.7 1263.1L1395.7 1247.8L1396.7 1246.6L1397.7 1254.5L1398.7 1253.2L1399.7 1240.1L1400.7 1260.4L1401.6 1251.9L1402.6 1249.0L1403.6 1241.9L1404.6 1256.4L1405.6 1233.1L1406.6 1245.0L1407.5 1244.3L1408.5 1245.1L1409.5 1248.0L1410.5 1250.9L1411.5 1231.6L1412.4 1239.2L1413.4 1241.8L1414.4 1232.3L1415.4 1247.1L1416.4 1234.8L1417.3 1239.8L1418.3 1248.3L1419.3 1233.2L1420.3 1254.3L1421.3 1233.7L1422.2 1247.4L1423.2 1235.3L1424.2 1227.5L1425.2 1233.6L1426.1 1243.7L1427.1 1238.2L1428.1 1241.1L1429.1 1248.7L1430.0 1247.7L1431.0 1236.7L1432.0 1232.4L1433.0 1254.0L1433.9 1237.0L1434.9 1231.9L1435.9 1235.0L1436.8 1244.9L1437.8 1227.2L1438.8 1246.5L1439.7 1229.7L1440.7 1222.4L1441.7 1254.5L1442.6 1232.1L1443.6 1231.4L1444.6 1231.9L1445.5 1240.2L1446.5 1235.9L1447.5 1245.8L1448.4 1231.6L1449.4 1228.1L1450.4 1237.9L1451.3 1240.0L1452.3 1235.5L1453.2 1231.3L1454.1 1230.4L1455.1 1231.4L1456.0 1229.6L1456.9 1241.3L1457.8 1252.9L1458.7 1224.2L1459.6 1218.1L1460.4 1240.3L1461.3 1233.0L1462.2 1224.7L1463.0 1219.5L1463.9 1221.1L1464.7 1216.3L1465.5 1225.3L1466.3 1221.2L1467.1 1220.6L1467.9 1226.4L1468.7 1214.0L1469.5 1217.4L1470.3 1214.4L1471.1 1223.5L1471.9 1212.9L1472.6 1227.5L1473.4 1216.0L1474.2 1238.7L1475.0 1225.1L1475.8 1211.8L1476.5 1219.5L1477.3 1214.4L1478.1 1227.4L1478.9 1204.5L1479.6 1209.7L1480.4 1213.2L1481.1 1209.7L1481.9 1209.6L1482.6 1202.6L1483.3 1209.0L1484.1 1219.3L1484.8 1210.4L1485.5 1201.0L1486.2 1204.2L1486.8 1209.1L1487.5 1202.6L1488.2 1204.6L1488.9 1201.2L1489.6 1212.8L1490.2 1207.8L1490.9 1198.9L1491.6 1202.6L1492.3 1199.0L1492.9 1191.1L1493.6 1200.7L1494.3 1197.4L1494.9 1200.3L1495.6 1199.8L1496.2 1196.5L1496.9 1202.1L1497.5 1204.3L1498.1 1188.4L1498.7 1193.5L1499.3 1187.9L1499.9 1190.9L1500.5 1190.0L1501.0 1187.3L1501.6 1186.3L1502.1 1192.6L1502.6 1183.1L1503.1 1189.8L1503.7 1184.8L1504.2 1176.9L1504.7 1183.5L1505.2 1177.8L1505.7 1183.1L1506.2 1179.3L1506.7 1180.1L1507.2 1178.2L1507.7 1181.0L1508.2 1180.3L1508.7 1175.9L1509.2 1180.3L1509.7 1177.3L1510.2 1172.6L1510.7 1174.9L1511.2 1174.7L1511.7 1174.3L1512.2 1170.4L1512.7 1170.7L1513.2 1168.6L1513.7 1168.5L1514.2 1163.3L1514.6 1167.2L1515.1 1169.6L1515.5 1164.3L1515.9 1163.6L1516.3 1162.4L1516.7 1164.9L1517.1 1158.8L1517.4 1160.0L1517.8 1159.1L1518.1 1160.8L1518.4 1156.3L1518.8 1156.2L1519.1 1153.1L1519.4 1154.9L1519.7 1155.2L1520.0 1152.1L1520.3 1152.7L1520.6 1149.8L1520.9 1151.0L1521.2 1148.7L1521.5 1147.8L1521.8 1146.6L1522.1 1146.3L1522.4 1145.7L1522.7 1143.8L1523.0 1143.4L1523.3 1141.6L1523.6 1141.1L1523.9 1142.4L1524.2 1139.0L1524.5 1136.5L1524.8 1136.7L1525.1 1135.5L1525.4 1134.7L1525.7 1134.6L1526.0 1134.4L1526.3 1131.5L1526.6 1130.3L1526.8 1129.8L1527.1 1129.0L1527.4 1128.1L1527.6 1127.4L1527.9 1126.2L1528.1 1125.5L1528.3 1124.2L1528.5 1124.2L1528.7 1123.0L1528.9 1121.2L1529.1 1120.8L1529.3 1121.2L1529.4 1118.5L1529.6 1119.1L1529.8 1115.5L1530.0 1115.2L1530.1 1114.3L1530.3 1114.0L1530.5 1113.3L1530.7 1111.8L1530.8 1110.7L1531.0 1110.1L1531.2 1108.6L1531.3 1107.4L1531.5 1106.5L1531.7 1106.3L1531.9 1105.8L1532.0 1103.8L1532.2 1103.1L1532.4 1101.6L1532.6 1100.2L1532.7 1099.2L1532.9 1098.8L1533.1 1097.5L1533.2 1096.3L1533.4 1095.9L1533.6 1094.8L1533.8 1093.6L1533.9 1093.0L1534.1 1092.1L1534.3 1091.2L1534.4 1090.0L1534.6 1089.2L1534.8 1087.8L1535.0 1087.1L1535.1 1085.6L1535.3 1084.7L1535.5 1084.4L1535.6 1082.8L1535.8 1082.2L1536.0 1080.8L1536.2 1080.0L1536.3 1079.2L1537.0 1075.1L1537.9 1069.1L1538.7 1063.3L1539.5 1057.3L1540.2 1051.6L1541.0 1045.6L1541.8 1039.4L1542.6 1033.5L1543.4 1027.5L1544.1 1021.6L1544.9 1015.7L1545.7 1009.8L1546.5 1003.8L1547.1 997.8L1547.7 991.9L1548.2 985.8L1548.8 979.9L1549.3 973.9L1549.9 968.0L1550.4 962.0L1550.9 956.0L1551.5 950.0L1552.0 944.1L1552.5 938.1L1553.1 932.1L1553.6 926.1L1554.1 920.1L1554.7 914.2L1555.2 908.2L1555.7 902.2L1556.1 896.2L1556.4 890.2L1556.8 884.2L1557.2 878.3L1557.6 872.3L1558.0 866.3L1558.3 860.3L1558.7 854.3L1559.1 848.3L1559.5 842.3L1559.9 836.3L1560.2 830.4L1560.6 824.4L1561.0 818.4L1561.4 812.4L1561.8 806.4L1562.1 800.4L1562.5 794.4L1562.8 788.4L1563.1 782.4L1563.4 776.4L1563.7 770.4L1564.0 764.5L1564.2 758.5L1564.5 752.5L1564.8 746.5L1565.1 740.5L1565.3 734.5L1565.6 728.5L1565.9 722.5L1566.2 716.5L1566.4 710.5L1566.7 704.5L1567.0 698.5L1567.2 692.5L1567.5 686.5L1567.8 680.5L1568.1 674.5L1568.4 668.5L1568.9 662.6L1569.6 656.6L1570.4 650.7L1571.1 644.7L1571.9 638.8L1572.7 632.8L1573.4 626.9L1574.2 620.9L1575.0 615.0L1575.6 609.0L1576.1 603.0L1576.5 597.0L1576.9 591.0L1577.2 585.1L1577.6 579.1L1577.9 573.1L1578.3 567.1L1578.6 561.1L1579.0 555.1L1579.3 549.1L1579.7 543.1L1580.1 537.1L1580.4 531.1L1580.8 525.2L1581.1 519.2L1581.4 513.2L1581.7 507.2L1581.9 501.2L1582.2 495.2L1582.4 489.2L1582.7 483.2L1583.0 477.2L1583.2 471.2L1583.5 465.2L1583.7 459.2L1584.0 453.2L1584.3 447.2L1584.5 441.2L1584.8 435.2L1585.0 429.2L1585.3 423.2L1585.6 417.3L1585.8 411.3L1586.1 405.3L1586.3 399.3L1586.6 393.3L1587.0 387.3L1587.4 381.3L1587.8 375.3L1588.4 369.3L1589.2 363.4L1590.7 357.8L1593.3 353.3L1596.9 352.4L1600.1 355.6L1602.0 361.0L1603.2 366.8L1604.0 372.8L1604.5 378.7L1605.0 384.7L1605.5 390.7L1605.7 396.7L1605.9 402.7L1606.0 408.7L1606.1 414.7L1606.3 420.7L1606.4 426.7L1606.6 432.7L1606.7 438.7L1606.8 444.7L1607.0 450.7L1607.1 456.7L1607.2 462.7L1607.4 468.7L1607.5 474.7L1607.6 480.7L1607.8 486.7L1607.9 492.7L1608.1 498.7L1608.2 504.7L1608.3 510.7L1608.5 516.7L1608.9 522.6L1609.3 528.6L1609.8 534.6L1610.3 540.6L1610.8 546.6L1611.2 552.6L1611.7 558.5L1612.2 564.5L1612.7 570.5L1613.1 576.5L1613.6 582.5L1614.1 588.4L1614.6 594.4L1615.0 600.4L1615.6 606.4L1616.2 612.3L1617.0 618.3L1617.8 624.2L1618.6 630.2L1619.4 636.1L1620.2 642.1L1621.0 648.0L1621.8 654.0L1622.5 659.9L1623.1 665.9L1623.6 671.9L1623.9 677.9L1624.3 683.9L1624.7 689.8L1625.1 695.8L1625.4 701.8L1625.8 707.8L1626.2 713.8L1626.6 719.8L1627.0 725.8L1627.3 731.8L1627.7 737.8L1628.1 743.7L1628.5 749.7L1628.8 755.7L1629.2 761.7L1629.6 767.7L1630.0 773.7L1630.3 779.7L1630.7 785.7L1631.1 791.7L1631.5 797.6L1631.9 803.6L1632.3 809.6L1632.7 815.6L1633.1 821.6L1633.5 827.6L1633.8 833.6L1634.2 839.6L1634.6 845.5L1635.0 851.5L1635.4 857.5L1635.8 863.5L1636.2 869.5L1636.6 875.5L1637.0 881.5L1637.4 887.5L1637.7 893.4L1638.2 899.4L1638.6 905.4L1639.2 911.4L1639.8 917.4L1640.5 923.3L1641.1 929.3L1641.8 935.3L1642.4 941.2L1643.0 947.2L1643.7 953.1L1644.3 959.1L1645.0 965.1L1645.6 971.0L1646.2 977.0L1646.9 983.0L1647.5 988.9L1648.2 994.9L1649.0 1000.8L1649.9 1006.8L1650.9 1012.8L1651.9 1018.6L1652.9 1024.6L1653.9 1030.5L1654.9 1036.4L1655.9 1042.2L1656.9 1048.1L1657.9 1054.2L1658.9 1060.2L1659.9 1066.0L1661.0 1071.9L1662.1 1077.5L1663.4 1083.7L1664.4 1088.9L1664.6 1089.3L1664.8 1090.4L1665.0 1091.7L1665.2 1092.4L1665.4 1093.5L1665.6 1094.5L1665.8 1095.7L1666.0 1096.6L1666.3 1097.6L1666.5 1098.1L1666.7 1099.2L1666.9 1100.1L1667.1 1101.3L1667.3 1102.4L1667.5 1102.5L1667.7 1104.9L1667.9 1104.7L1668.1 1106.0L1668.3 1107.1L1668.5 1108.3L1668.7 1109.2L1668.9 1110.6L1669.1 1111.6L1669.4 1112.1L1669.6 1113.7L1669.8 1113.6L1670.0 1114.4L1670.2 1117.2L1670.4 1117.7L1670.6 1117.7L1670.8 1118.7L1671.0 1119.8L1671.2 1120.6L1671.5 1121.4L1671.7 1122.2L1671.9 1122.7L1672.2 1124.7L1672.5 1125.1L1672.7 1127.6L1673.0 1127.6L1673.3 1129.3L1673.6 1128.5L1673.9 1128.8L1674.2 1131.0L1674.6 1133.3L1674.9 1133.3L1675.2 1134.2L1675.6 1135.0L1675.9 1135.2L1676.3 1136.2L1676.6 1140.0L1677.0 1137.7L1677.3 1140.2L1677.7 1141.2L1678.0 1140.4L1678.4 1142.9L1678.8 1144.9L1679.1 1145.8L1679.5 1145.4L1679.8 1145.4L1680.2 1145.8L1680.5 1148.4L1680.9 1149.7L1681.2 1148.3L1681.6 1151.6L1681.9 1150.3L1682.3 1152.6L1682.6 1153.6L1683.0 1155.1L1683.3 1155.4L1683.7 1157.3L1684.0 1158.5L1684.4 1158.7L1684.8 1160.4L1685.1 1160.0L1685.5 1161.2L1685.9 1162.6L1686.3 1163.5L1686.7 1164.4L1687.1 1162.3L1687.5 1165.9L1688.0 1167.7L1688.5 1168.1L1688.9 1167.4L1689.4 1169.7L1690.0 1170.5L1690.5 1171.5L1691.0 1171.6L1691.6 1172.0L1692.1 1172.7L1692.7 1177.7L1693.3 1177.4L1693.8 1181.3L1694.4 1175.2L1694.9 1175.4L1695.5 1175.8L1696.1 1179.0L1696.6 1177.6L1697.2 1181.1L1697.8 1182.1L1698.3 1186.4L1698.9 1185.4L1699.5 1185.7L1700.0 1182.9L1700.6 1181.8L1701.2 1188.0L1701.7 1186.6L1702.3 1187.7L1702.9 1191.4L1703.5 1195.1L1704.0 1193.1L1704.6 1196.0L1705.2 1193.4L1705.8 1193.7L1706.4 1194.7L1707.0 1195.4L1707.6 1194.1L1708.2 1199.6L1708.9 1194.3L1709.5 1204.0L1710.1 1198.6L1710.8 1198.2L1711.4 1203.2L1712.1 1207.2L1712.8 1199.5L1713.4 1205.2L1714.1 1200.3L1714.8 1201.1L1715.4 1204.8L1716.1 1205.5L1716.8 1202.3L1717.5 1205.4L1718.1 1211.9L1718.8 1207.8L1719.5 1206.8L1720.1 1209.1L1720.8 1209.9L1721.5 1212.2L1722.2 1212.8L1722.8 1217.7L1723.5 1221.3L1724.2 1209.0L1724.9 1218.5L1725.5 1214.8L1726.2 1224.9L1726.9 1216.6L1727.6 1222.6L1728.3 1207.6L1729.0 1225.1L1729.7 1225.6L1730.4 1216.0L1731.2 1215.7L1731.9 1234.9L1732.6 1221.5L1733.4 1218.9L1734.2 1231.4L1734.9 1221.1L1735.7 1228.5L1736.5 1232.0L1737.3 1228.7L1738.1 1230.0L1738.9 1236.4L1739.6 1216.8L1740.4 1231.9L1741.2 1234.3L1742.0 1225.6L1742.8 1231.4L1743.6 1224.2L1744.4 1233.8L1745.2 1246.4L1746.0 1262.0L1746.8 1247.5L1747.6 1235.9L1748.4 1235.9L1749.2 1226.2L1750.0 1240.7L1750.8 1240.4L1751.7 1239.6L1752.5 1234.4L1753.4 1235.9L1754.2 1233.1L1755.1 1248.4L1756.0 1237.9L1757.0 1241.0L1757.9 1242.1L1758.8 1239.4L1759.8 1255.0L1760.7 1239.3L1761.7 1240.3L1762.7 1251.5L1763.7 1242.3L1764.6 1232.5L1765.6 1244.7L1766.6 1238.5L1767.6 1244.0L1768.5 1248.3L1769.5 1249.3L1770.5 1245.8L1771.5 1235.2L1772.5 1238.3L1773.4 1248.6L1774.4 1237.6L1775.4 1245.0L1776.4 1249.1L1777.4 1241.7L1778.3 1251.2L1779.3 1256.5L1780.3 1237.0L1781.3 1259.0L1782.3 1242.0L1783.2 1257.0L1784.2 1246.1L1785.2 1247.4L1786.2 1249.3L1787.2 1263.4L1788.2 1247.3L1789.1 1247.0L1790.1 1253.3L1791.1 1247.5L1792.1 1240.7L1793.1 1252.4L1794.1 1245.6L1795.1 1255.8L1796.1 1244.9L1797.1 1243.3L1798.1 1233.2L1799.1 1241.7L1800.1 1244.8L1801.1 1238.8L1802.1 1255.1L1803.1 1240.9L1804.1 1251.9L1805.1 1252.5L1806.1 1241.0L1807.1 1246.6L1808.1 1239.7L1809.1 1277.6L1810.1 1296.0L1811.0 1274.1L1812.0 1250.3L1813.0 1263.3L1814.0 1242.4L1815.0 1247.2L1816.0 1255.9L1817.0 1258.8L1818.0 1255.1L1819.0 1239.8L1820.0 1249.6L1821.0 1251.3L1822.0 1245.7L1823.0 1249.0L1824.0 1247.5L1825.0 1244.2L1826.0 1247.0L1827.0 1243.5L1828.0 1258.2L1829.0 1249.0L1830.0 1252.0L1831.0 1248.8L1832.0 1249.8L1832.9 1254.2L1833.8 1252.2L1834.7 1243.4L1835.6 1253.7L1836.4 1259.2L1837.2 1245.8L1837.9 1244.7L1838.5 1250.8L1839.0 1249.9"/>
</g>
<g stroke="#161616" stroke-width="4.8" fill="none">
<path d="M374.2 47.9 V1359.4"/>
<path d="M346.2 1357.0 H2154.5"/>
<path d="M346.2 50.3 H374.2"/>
<path d="M346.2 195.5 H374.2"/>
<path d="M346.2 340.7 H374.2"/>
<path d="M346.2 485.9 H374.2"/>
<path d="M346.2 631.1 H374.2"/>
<path d="M346.2 776.2 H374.2"/>
<path d="M346.2 921.4 H374.2"/>
<path d="M346.2 1066.6 H374.2"/>
<path d="M346.2 1211.8 H374.2"/>
<path d="M358.2 122.9 H374.2"/>
<path d="M358.2 268.1 H374.2"/>
<path d="M358.2 413.3 H374.2"/>
<path d="M358.2 558.5 H374.2"/>
<path d="M358.2 703.6 H374.2"/>
<path d="M358.2 848.8 H374.2"/>
<path d="M358.2 994.0 H374.2"/>
<path d="M358.2 1139.2 H374.2"/>
<path d="M358.2 1284.4 H374.2"/>
<path d="M668.9 1357.0 V1384.0"/>
<path d="M1163.3 1357.0 V1384.0"/>
<path d="M1657.7 1357.0 V1384.0"/>
<path d="M2152.1 1357.0 V1384.0"/>
<path d="M421.7 1357.0 V1372.5"/>
<path d="M916.1 1357.0 V1372.5"/>
<path d="M1410.5 1357.0 V1372.5"/>
<path d="M1904.9 1357.0 V1372.5"/>
</g>
<g font-family="'Liberation Sans', Arial, Helvetica, sans-serif" font-weight="bold" font-size="80" fill="#000">
<text transform="translate(328.6 70.9) scale(1 1.04)" text-anchor="end">10</text>
<text transform="translate(328.6 216.1) scale(1 1.04)" text-anchor="end">0</text>
<text transform="translate(328.6 361.3) scale(1 1.04)" text-anchor="end">-10</text>
<text transform="translate(328.6 506.5) scale(1 1.04)" text-anchor="end">-20</text>
<text transform="translate(328.6 651.7) scale(1 1.04)" text-anchor="end">-30</text>
<text transform="translate(328.6 796.8) scale(1 1.04)" text-anchor="end">-40</text>
<text transform="translate(328.6 942.0) scale(1 1.04)" text-anchor="end">-50</text>
<text transform="translate(328.6 1087.2) scale(1 1.04)" text-anchor="end">-60</text>
<text transform="translate(328.6 1232.4) scale(1 1.04)" text-anchor="end">-70</text>
<text transform="translate(328.6 1377.6) scale(1 1.04)" text-anchor="end">-80</text>
<text transform="translate(668.9 1461.2) scale(1 1.04)" text-anchor="middle">1547.5</text>
<text transform="translate(1163.3 1461.2) scale(1 1.04)" text-anchor="middle">1550.0</text>
<text transform="translate(1657.7 1461.2) scale(1 1.04)" text-anchor="middle">1552.5</text>
<text transform="translate(2152.1 1461.2) scale(1 1.04)" text-anchor="middle">1555.0</text>
</g>
<g font-family="'Liberation Sans', Arial, Helvetica, sans-serif" font-weight="bold" fill="#000">
<g font-size="102.3">
<text transform="translate(1264.0 1619.4) scale(1 1.04)" text-anchor="middle">Wavelength (nm)</text>
</g><g font-size="104.6">
<text transform="translate(106.5 737.0) rotate(-90) scale(1 1.04)" text-anchor="middle">Power (dBm)</text>
</g></g>
<g stroke="#000" stroke-width="15.5" stroke-dasharray="16.2 16.6" fill="none">
<path d="M547.5 333.8 h213.6"/>
<path d="M874.3 373.2 h213.6"/>
<path d="M1171.9 367.0 h213.6"/>
<path d="M1498.5 340.8 h213.6"/>
</g>
<g font-family="'Liberation Sans', Arial, Helvetica, sans-serif" font-weight="bold" font-size="59" fill="#000">
<text transform="translate(521.0 286.8) scale(1 1)" text-anchor="start">-10.5 <tspan dx="6.5" textLength="124.5" lengthAdjust="spacingAndGlyphs">dBm</tspan></text>
<text transform="translate(818.0 318.7) scale(1 1)" text-anchor="start">-13.8 <tspan dx="6.5" textLength="124.5" lengthAdjust="spacingAndGlyphs">dBm</tspan></text>
<text transform="translate(1160.0 311.0) scale(1 1)" text-anchor="start">-12.7 <tspan dx="6.5" textLength="124.5" lengthAdjust="spacingAndGlyphs">dBm</tspan></text>
<text transform="translate(1473.0 294.6) scale(1 1)" text-anchor="start">-10.9 <tspan dx="6.5" textLength="124.5" lengthAdjust="spacingAndGlyphs">dBm</tspan></text>
</g>
<rect x="1841.2" y="1035.4" width="380.4" height="309.8" fill="#fff" stroke="#9c9c9c" stroke-width="3"/>
<g stroke-width="12" stroke-linecap="round">
<path stroke="#000000" d="M1854 1075.3 H1994.5"/>
<path stroke="#ff0000" d="M1854 1152.6 H1994.5"/>
<path stroke="#0000ff" d="M1854 1230.6 H1994.5"/>
<path stroke="#007c7c" d="M1854 1309.0 H1994.5"/>
</g>
<g font-family="'Liberation Sans', Arial, Helvetica, sans-serif" font-size="61.5" fill="#000" stroke="#000" stroke-width="1.7" stroke-linejoin="round">
<text transform="translate(2011.8 1096.7) scale(1 1.055)" text-anchor="start">BS_G1</text>
<text transform="translate(2011.8 1174.0) scale(1 1.055)" text-anchor="start">BS_G2</text>
<text transform="translate(2011.8 1252.0) scale(1 1.055)" text-anchor="start">BS_G3</text>
<text transform="translate(2011.8 1330.4) scale(1 1.055)" text-anchor="start">BS_G4</text>
</g>
</svg>
</body>
</html>
